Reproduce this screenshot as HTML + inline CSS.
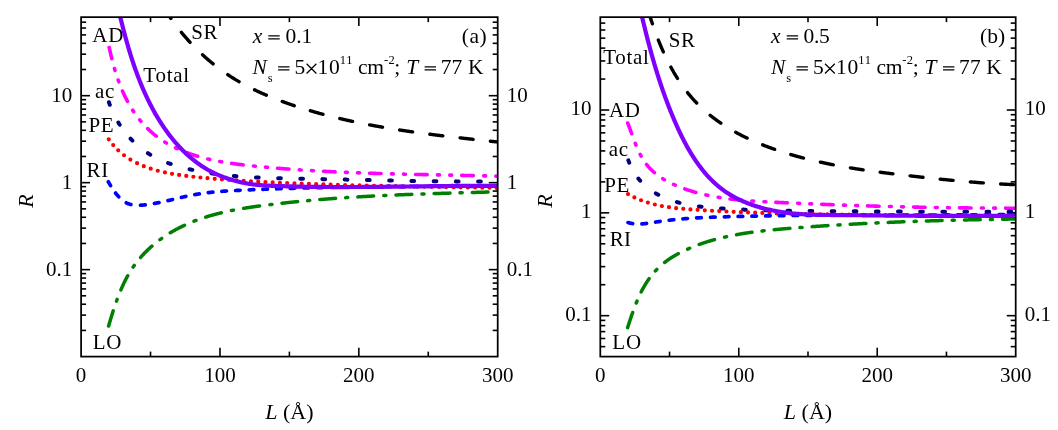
<!DOCTYPE html>
<html><head><meta charset="utf-8"><title>R vs L</title>
<style>
html,body{margin:0;padding:0;background:#fff;}
body{width:1058px;height:430px;overflow:hidden;font-family:"Liberation Serif",serif;}
svg{display:block;}
</style></head><body>
<svg width="1058" height="430" viewBox="0 0 1058 430">
<defs>
<clipPath id="clipL"><rect x="81.10" y="17.15" width="416.60" height="339.45"/></clipPath>
<clipPath id="clipR"><rect x="600.30" y="17.15" width="415.40" height="339.45"/></clipPath>
</defs>
<rect width="1058" height="430" fill="#fff"/>
<g font-family="'Liberation Serif', serif" fill="#000" opacity="0.999">
<text x="81.10" y="382.00" font-size="21.00" text-anchor="middle" >0</text>
<text x="219.97" y="382.00" font-size="21.00" text-anchor="middle" >100</text>
<text x="358.83" y="382.00" font-size="21.00" text-anchor="middle" >200</text>
<text x="497.70" y="382.00" font-size="21.00" text-anchor="middle" >300</text>
<text x="72.30" y="101.59" font-size="21.00" text-anchor="end" >10</text>
<text x="506.70" y="101.59" font-size="21.00" text-anchor="start" >10</text>
<text x="72.30" y="188.56" font-size="21.00" text-anchor="end" >1</text>
<text x="506.70" y="188.56" font-size="21.00" text-anchor="start" >1</text>
<text x="72.30" y="275.53" font-size="21.00" text-anchor="end" >0.1</text>
<text x="506.70" y="275.53" font-size="21.00" text-anchor="start" >0.1</text>
<text x="289.40" y="418.60" font-size="22.00" text-anchor="middle" ><tspan font-style="italic">L</tspan> (Å)</text>
<text transform="translate(32.50,201.00) rotate(-90)" font-size="22" text-anchor="middle" font-style="italic">R</text>
<text x="600.30" y="382.00" font-size="21.00" text-anchor="middle" >0</text>
<text x="738.77" y="382.00" font-size="21.00" text-anchor="middle" >100</text>
<text x="877.23" y="382.00" font-size="21.00" text-anchor="middle" >200</text>
<text x="1015.70" y="382.00" font-size="21.00" text-anchor="middle" >300</text>
<text x="591.50" y="115.42" font-size="21.00" text-anchor="end" >10</text>
<text x="1024.70" y="115.42" font-size="21.00" text-anchor="start" >10</text>
<text x="591.50" y="218.25" font-size="21.00" text-anchor="end" >1</text>
<text x="1024.70" y="218.25" font-size="21.00" text-anchor="start" >1</text>
<text x="591.50" y="321.08" font-size="21.00" text-anchor="end" >0.1</text>
<text x="1024.70" y="321.08" font-size="21.00" text-anchor="start" >0.1</text>
<text x="808.00" y="418.60" font-size="22.00" text-anchor="middle" ><tspan font-style="italic">L</tspan> (Å)</text>
<text transform="translate(551.70,201.00) rotate(-90)" font-size="22" text-anchor="middle" font-style="italic">R</text>
<text x="92.35" y="41.70" font-size="21.00" text-anchor="start"  letter-spacing="0.80">AD</text>
<text x="191.18" y="38.80" font-size="21.00" text-anchor="start"  letter-spacing="0.53">SR</text>
<text x="143.34" y="82.40" font-size="21.00" text-anchor="start"  letter-spacing="0.73">Total</text>
<text x="94.98" y="98.40" font-size="21.00" text-anchor="start"  letter-spacing="0.80">ac</text>
<text x="88.39" y="131.50" font-size="21.00" text-anchor="start"  letter-spacing="0.80">PE</text>
<text x="86.39" y="177.20" font-size="21.00" text-anchor="start"  letter-spacing="0.80">RI</text>
<text x="92.70" y="348.90" font-size="21.00" text-anchor="start"  letter-spacing="0.80">LO</text>
<text x="603.23" y="63.60" font-size="21.00" text-anchor="start"  letter-spacing="0.70">Total</text>
<text x="668.65" y="46.50" font-size="21.00" text-anchor="start"  letter-spacing="0.80">SR</text>
<text x="608.90" y="117.40" font-size="21.00" text-anchor="start"  letter-spacing="0.80">AD</text>
<text x="608.63" y="156.40" font-size="21.00" text-anchor="start"  letter-spacing="0.80">ac</text>
<text x="604.14" y="191.50" font-size="21.00" text-anchor="start"  letter-spacing="0.80">PE</text>
<text x="609.77" y="246.00" font-size="21.00" text-anchor="start"  letter-spacing="0.32">RI</text>
<text x="612.35" y="348.60" font-size="21.00" text-anchor="start"  letter-spacing="0.80">LO</text>
<text x="252.68" y="42.50" font-size="21.50" text-anchor="start"  font-style="italic">x</text>
<text x="285.45" y="42.50" font-size="21.50" text-anchor="start" >0.1</text>
<text x="461.75" y="42.80" font-size="21.50" text-anchor="start"  letter-spacing="0.57">(a)</text>
<text x="252.50" y="73.70" font-size="21.50" text-anchor="start"  font-style="italic">N</text>
<text x="267.74" y="81.50" font-size="12.50" text-anchor="start" >s</text>
<text x="294.58" y="73.70" font-size="21.50" text-anchor="start" >5</text>
<text x="317.51" y="73.70" font-size="21.50" text-anchor="start"  letter-spacing="0.80">10</text>
<text x="339.79" y="63.60" font-size="12.50" text-anchor="start"  letter-spacing="0.80">11</text>
<text x="358.04" y="73.70" font-size="21.50" text-anchor="start"  letter-spacing="-0.30">cm</text>
<text x="383.90" y="63.60" font-size="12.50" text-anchor="start"  letter-spacing="0.40">-2</text>
<text x="394.34" y="73.70" font-size="21.50" text-anchor="start" >;</text>
<text x="406.21" y="73.70" font-size="21.50" text-anchor="start"  font-style="italic">T</text>
<text x="440.69" y="73.70" font-size="21.50" text-anchor="start"  letter-spacing="0.11">77</text>
<text x="467.88" y="73.70" font-size="21.50" text-anchor="start" >K</text>
<text x="771.08" y="42.50" font-size="21.50" text-anchor="start"  font-style="italic">x</text>
<text x="803.45" y="42.50" font-size="21.50" text-anchor="start"  letter-spacing="-0.30">0.5</text>
<text x="980.10" y="42.80" font-size="21.50" text-anchor="start"  letter-spacing="0.02">(b)</text>
<text x="770.90" y="73.70" font-size="21.50" text-anchor="start"  font-style="italic">N</text>
<text x="786.14" y="81.50" font-size="12.50" text-anchor="start" >s</text>
<text x="812.98" y="73.70" font-size="21.50" text-anchor="start" >5</text>
<text x="835.91" y="73.70" font-size="21.50" text-anchor="start"  letter-spacing="0.80">10</text>
<text x="858.19" y="63.60" font-size="12.50" text-anchor="start"  letter-spacing="0.80">11</text>
<text x="876.44" y="73.70" font-size="21.50" text-anchor="start"  letter-spacing="-0.30">cm</text>
<text x="902.30" y="63.60" font-size="12.50" text-anchor="start"  letter-spacing="0.40">-2</text>
<text x="912.74" y="73.70" font-size="21.50" text-anchor="start" >;</text>
<text x="924.61" y="73.70" font-size="21.50" text-anchor="start"  font-style="italic">T</text>
<text x="959.09" y="73.70" font-size="21.50" text-anchor="start"  letter-spacing="0.11">77</text>
<text x="986.28" y="73.70" font-size="21.50" text-anchor="start" >K</text>
<path d="M268.30,35.75H279.70M268.30,38.75H279.70M278.10,66.95H289.50M278.10,69.95H289.50M306.60,63.70L316.40,73.50M306.60,73.50L316.40,63.70M424.60,66.95H436.00M424.60,69.95H436.00M786.70,35.75H798.10M786.70,38.75H798.10M796.50,66.95H807.90M796.50,69.95H807.90M825.00,63.70L834.80,73.50M825.00,73.50L834.80,63.70M943.00,66.95H954.40M943.00,69.95H954.40" stroke="#000" stroke-width="1.25" fill="none"/>
</g>
<g stroke="#000" stroke-width="1.6" fill="none" stroke-linecap="butt">
<line x1="150.53" y1="356.60" x2="150.53" y2="351.60"/>
<line x1="150.53" y1="17.15" x2="150.53" y2="22.15"/>
<line x1="219.97" y1="356.60" x2="219.97" y2="347.70"/>
<line x1="219.97" y1="17.15" x2="219.97" y2="26.05"/>
<line x1="289.40" y1="356.60" x2="289.40" y2="351.60"/>
<line x1="289.40" y1="17.15" x2="289.40" y2="22.15"/>
<line x1="358.83" y1="356.60" x2="358.83" y2="347.70"/>
<line x1="358.83" y1="17.15" x2="358.83" y2="26.05"/>
<line x1="428.27" y1="356.60" x2="428.27" y2="351.60"/>
<line x1="428.27" y1="17.15" x2="428.27" y2="22.15"/>
<line x1="81.10" y1="330.42" x2="86.10" y2="330.42"/>
<line x1="497.70" y1="330.42" x2="492.70" y2="330.42"/>
<line x1="81.10" y1="315.10" x2="86.10" y2="315.10"/>
<line x1="497.70" y1="315.10" x2="492.70" y2="315.10"/>
<line x1="81.10" y1="304.24" x2="86.10" y2="304.24"/>
<line x1="497.70" y1="304.24" x2="492.70" y2="304.24"/>
<line x1="81.10" y1="295.81" x2="86.10" y2="295.81"/>
<line x1="497.70" y1="295.81" x2="492.70" y2="295.81"/>
<line x1="81.10" y1="288.92" x2="86.10" y2="288.92"/>
<line x1="497.70" y1="288.92" x2="492.70" y2="288.92"/>
<line x1="81.10" y1="283.10" x2="86.10" y2="283.10"/>
<line x1="497.70" y1="283.10" x2="492.70" y2="283.10"/>
<line x1="81.10" y1="278.06" x2="86.10" y2="278.06"/>
<line x1="497.70" y1="278.06" x2="492.70" y2="278.06"/>
<line x1="81.10" y1="273.61" x2="86.10" y2="273.61"/>
<line x1="497.70" y1="273.61" x2="492.70" y2="273.61"/>
<line x1="81.10" y1="269.63" x2="90.00" y2="269.63"/>
<line x1="497.70" y1="269.63" x2="488.80" y2="269.63"/>
<line x1="81.10" y1="243.45" x2="86.10" y2="243.45"/>
<line x1="497.70" y1="243.45" x2="492.70" y2="243.45"/>
<line x1="81.10" y1="228.14" x2="86.10" y2="228.14"/>
<line x1="497.70" y1="228.14" x2="492.70" y2="228.14"/>
<line x1="81.10" y1="217.27" x2="86.10" y2="217.27"/>
<line x1="497.70" y1="217.27" x2="492.70" y2="217.27"/>
<line x1="81.10" y1="208.84" x2="86.10" y2="208.84"/>
<line x1="497.70" y1="208.84" x2="492.70" y2="208.84"/>
<line x1="81.10" y1="201.95" x2="86.10" y2="201.95"/>
<line x1="497.70" y1="201.95" x2="492.70" y2="201.95"/>
<line x1="81.10" y1="196.13" x2="86.10" y2="196.13"/>
<line x1="497.70" y1="196.13" x2="492.70" y2="196.13"/>
<line x1="81.10" y1="191.09" x2="86.10" y2="191.09"/>
<line x1="497.70" y1="191.09" x2="492.70" y2="191.09"/>
<line x1="81.10" y1="186.64" x2="86.10" y2="186.64"/>
<line x1="497.70" y1="186.64" x2="492.70" y2="186.64"/>
<line x1="81.10" y1="182.66" x2="90.00" y2="182.66"/>
<line x1="497.70" y1="182.66" x2="488.80" y2="182.66"/>
<line x1="81.10" y1="156.48" x2="86.10" y2="156.48"/>
<line x1="497.70" y1="156.48" x2="492.70" y2="156.48"/>
<line x1="81.10" y1="141.17" x2="86.10" y2="141.17"/>
<line x1="497.70" y1="141.17" x2="492.70" y2="141.17"/>
<line x1="81.10" y1="130.30" x2="86.10" y2="130.30"/>
<line x1="497.70" y1="130.30" x2="492.70" y2="130.30"/>
<line x1="81.10" y1="121.87" x2="86.10" y2="121.87"/>
<line x1="497.70" y1="121.87" x2="492.70" y2="121.87"/>
<line x1="81.10" y1="114.99" x2="86.10" y2="114.99"/>
<line x1="497.70" y1="114.99" x2="492.70" y2="114.99"/>
<line x1="81.10" y1="109.16" x2="86.10" y2="109.16"/>
<line x1="497.70" y1="109.16" x2="492.70" y2="109.16"/>
<line x1="81.10" y1="104.12" x2="86.10" y2="104.12"/>
<line x1="497.70" y1="104.12" x2="492.70" y2="104.12"/>
<line x1="81.10" y1="99.67" x2="86.10" y2="99.67"/>
<line x1="497.70" y1="99.67" x2="492.70" y2="99.67"/>
<line x1="81.10" y1="95.69" x2="90.00" y2="95.69"/>
<line x1="497.70" y1="95.69" x2="488.80" y2="95.69"/>
<line x1="81.10" y1="69.51" x2="86.10" y2="69.51"/>
<line x1="497.70" y1="69.51" x2="492.70" y2="69.51"/>
<line x1="81.10" y1="54.20" x2="86.10" y2="54.20"/>
<line x1="497.70" y1="54.20" x2="492.70" y2="54.20"/>
<line x1="81.10" y1="43.33" x2="86.10" y2="43.33"/>
<line x1="497.70" y1="43.33" x2="492.70" y2="43.33"/>
<line x1="81.10" y1="34.90" x2="86.10" y2="34.90"/>
<line x1="497.70" y1="34.90" x2="492.70" y2="34.90"/>
<line x1="81.10" y1="28.02" x2="86.10" y2="28.02"/>
<line x1="497.70" y1="28.02" x2="492.70" y2="28.02"/>
<line x1="81.10" y1="22.19" x2="86.10" y2="22.19"/>
<line x1="497.70" y1="22.19" x2="492.70" y2="22.19"/>
</g>
<g stroke="#000" stroke-width="1.6" fill="none" stroke-linecap="butt">
<line x1="669.53" y1="356.60" x2="669.53" y2="351.60"/>
<line x1="669.53" y1="17.15" x2="669.53" y2="22.15"/>
<line x1="738.77" y1="356.60" x2="738.77" y2="347.70"/>
<line x1="738.77" y1="17.15" x2="738.77" y2="26.05"/>
<line x1="808.00" y1="356.60" x2="808.00" y2="351.60"/>
<line x1="808.00" y1="17.15" x2="808.00" y2="22.15"/>
<line x1="877.23" y1="356.60" x2="877.23" y2="347.70"/>
<line x1="877.23" y1="17.15" x2="877.23" y2="26.05"/>
<line x1="946.47" y1="356.60" x2="946.47" y2="351.60"/>
<line x1="946.47" y1="17.15" x2="946.47" y2="22.15"/>
<line x1="600.30" y1="346.63" x2="605.30" y2="346.63"/>
<line x1="1015.70" y1="346.63" x2="1010.70" y2="346.63"/>
<line x1="600.30" y1="338.49" x2="605.30" y2="338.49"/>
<line x1="1015.70" y1="338.49" x2="1010.70" y2="338.49"/>
<line x1="600.30" y1="331.61" x2="605.30" y2="331.61"/>
<line x1="1015.70" y1="331.61" x2="1010.70" y2="331.61"/>
<line x1="600.30" y1="325.64" x2="605.30" y2="325.64"/>
<line x1="1015.70" y1="325.64" x2="1010.70" y2="325.64"/>
<line x1="600.30" y1="320.38" x2="605.30" y2="320.38"/>
<line x1="1015.70" y1="320.38" x2="1010.70" y2="320.38"/>
<line x1="600.30" y1="315.68" x2="609.20" y2="315.68"/>
<line x1="1015.70" y1="315.68" x2="1006.80" y2="315.68"/>
<line x1="600.30" y1="284.72" x2="605.30" y2="284.72"/>
<line x1="1015.70" y1="284.72" x2="1010.70" y2="284.72"/>
<line x1="600.30" y1="266.62" x2="605.30" y2="266.62"/>
<line x1="1015.70" y1="266.62" x2="1010.70" y2="266.62"/>
<line x1="600.30" y1="253.77" x2="605.30" y2="253.77"/>
<line x1="1015.70" y1="253.77" x2="1010.70" y2="253.77"/>
<line x1="600.30" y1="243.80" x2="605.30" y2="243.80"/>
<line x1="1015.70" y1="243.80" x2="1010.70" y2="243.80"/>
<line x1="600.30" y1="235.66" x2="605.30" y2="235.66"/>
<line x1="1015.70" y1="235.66" x2="1010.70" y2="235.66"/>
<line x1="600.30" y1="228.78" x2="605.30" y2="228.78"/>
<line x1="1015.70" y1="228.78" x2="1010.70" y2="228.78"/>
<line x1="600.30" y1="222.81" x2="605.30" y2="222.81"/>
<line x1="1015.70" y1="222.81" x2="1010.70" y2="222.81"/>
<line x1="600.30" y1="217.55" x2="605.30" y2="217.55"/>
<line x1="1015.70" y1="217.55" x2="1010.70" y2="217.55"/>
<line x1="600.30" y1="212.85" x2="609.20" y2="212.85"/>
<line x1="1015.70" y1="212.85" x2="1006.80" y2="212.85"/>
<line x1="600.30" y1="181.89" x2="605.30" y2="181.89"/>
<line x1="1015.70" y1="181.89" x2="1010.70" y2="181.89"/>
<line x1="600.30" y1="163.78" x2="605.30" y2="163.78"/>
<line x1="1015.70" y1="163.78" x2="1010.70" y2="163.78"/>
<line x1="600.30" y1="150.94" x2="605.30" y2="150.94"/>
<line x1="1015.70" y1="150.94" x2="1010.70" y2="150.94"/>
<line x1="600.30" y1="140.97" x2="605.30" y2="140.97"/>
<line x1="1015.70" y1="140.97" x2="1010.70" y2="140.97"/>
<line x1="600.30" y1="132.83" x2="605.30" y2="132.83"/>
<line x1="1015.70" y1="132.83" x2="1010.70" y2="132.83"/>
<line x1="600.30" y1="125.94" x2="605.30" y2="125.94"/>
<line x1="1015.70" y1="125.94" x2="1010.70" y2="125.94"/>
<line x1="600.30" y1="119.98" x2="605.30" y2="119.98"/>
<line x1="1015.70" y1="119.98" x2="1010.70" y2="119.98"/>
<line x1="600.30" y1="114.72" x2="605.30" y2="114.72"/>
<line x1="1015.70" y1="114.72" x2="1010.70" y2="114.72"/>
<line x1="600.30" y1="110.02" x2="609.20" y2="110.02"/>
<line x1="1015.70" y1="110.02" x2="1006.80" y2="110.02"/>
<line x1="600.30" y1="79.06" x2="605.30" y2="79.06"/>
<line x1="1015.70" y1="79.06" x2="1010.70" y2="79.06"/>
<line x1="600.30" y1="60.95" x2="605.30" y2="60.95"/>
<line x1="1015.70" y1="60.95" x2="1010.70" y2="60.95"/>
<line x1="600.30" y1="48.11" x2="605.30" y2="48.11"/>
<line x1="1015.70" y1="48.11" x2="1010.70" y2="48.11"/>
<line x1="600.30" y1="38.14" x2="605.30" y2="38.14"/>
<line x1="1015.70" y1="38.14" x2="1010.70" y2="38.14"/>
<line x1="600.30" y1="30.00" x2="605.30" y2="30.00"/>
<line x1="1015.70" y1="30.00" x2="1010.70" y2="30.00"/>
<line x1="600.30" y1="23.11" x2="605.30" y2="23.11"/>
<line x1="1015.70" y1="23.11" x2="1010.70" y2="23.11"/>
</g>
<g clip-path="url(#clipL)" fill="none" stroke-linecap="round" stroke-linejoin="round">
<path d="M163.71,7.52L163.74,7.57L164.01,8.01L164.28,8.44L164.55,8.87L164.82,9.30L165.09,9.73L165.36,10.16L165.63,10.59L165.90,11.02L166.18,11.44L166.45,11.87L166.73,12.30L167.00,12.72L167.28,13.15L167.56,13.57L167.84,14.00L168.12,14.42L168.40,14.84L168.69,15.26L168.97,15.68L169.25,16.10L169.54,16.52L169.83,16.94L170.11,17.36L170.40,17.78L170.69,18.20L170.89,18.48M181.39,32.37L181.46,32.45L181.78,32.84L182.11,33.23L182.43,33.62L182.75,34.01L183.08,34.40L183.40,34.78L183.73,35.17L184.06,35.56L184.39,35.94L184.72,36.32L185.05,36.71L185.38,37.09L185.71,37.47L186.04,37.85L186.38,38.23L186.71,38.61L187.05,38.99L187.38,39.37L187.72,39.75L188.06,40.12L188.40,40.50L188.74,40.87L189.08,41.25L189.42,41.62L189.76,41.99L190.08,42.34M202.59,54.80L202.63,54.84L203.01,55.18L203.38,55.52L203.75,55.86L204.13,56.20L204.50,56.54L204.88,56.88L205.26,57.21L205.63,57.55L206.01,57.88L206.39,58.21L206.77,58.55L207.15,58.88L207.54,59.21L207.92,59.54L208.30,59.86L208.69,60.19L209.07,60.52L209.46,60.84L209.84,61.17L210.23,61.49L210.62,61.82L211.01,62.14L211.39,62.46L211.78,62.78L212.18,63.10L212.57,63.42L212.96,63.73L213.08,63.83M227.81,74.66L227.88,74.71L228.30,74.99L228.72,75.27L229.15,75.55L229.57,75.83L229.99,76.10L230.41,76.38L230.84,76.65L231.26,76.93L231.69,77.20L232.11,77.47L232.54,77.74L232.96,78.01L233.39,78.27L233.82,78.54L234.25,78.80L234.68,79.07L235.11,79.33L235.54,79.59L235.97,79.86L236.41,80.12L236.84,80.37L237.27,80.63L237.71,80.89L238.14,81.14L238.58,81.40L239.01,81.65L239.06,81.68M254.58,89.86L254.66,89.90L255.12,90.11L255.58,90.33L256.03,90.55L256.49,90.76L256.95,90.98L257.41,91.19L257.87,91.41L258.33,91.62L258.79,91.83L259.25,92.04L259.71,92.25L260.17,92.46L260.63,92.67L261.10,92.88L261.56,93.08L262.02,93.29L262.49,93.49L262.95,93.70L263.41,93.90L263.88,94.10L264.34,94.31L264.81,94.51L265.27,94.71L265.74,94.91L266.21,95.11L266.33,95.16M282.22,101.43L282.24,101.44L282.72,101.62L283.20,101.79L283.67,101.96L284.15,102.14L284.63,102.31L285.10,102.48L285.58,102.65L286.06,102.83L286.53,103.00L287.01,103.17L287.49,103.33L287.97,103.50L288.44,103.67L288.92,103.84L289.40,104.01L289.88,104.17L290.36,104.34L290.84,104.50L291.32,104.67L291.80,104.83L292.27,104.99L292.75,105.16L293.23,105.32L293.71,105.48L294.19,105.64L294.21,105.65M310.38,110.74L310.48,110.77L310.97,110.92L311.45,111.06L311.94,111.20L312.43,111.34L312.91,111.48L313.40,111.62L313.88,111.76L314.37,111.90L314.86,112.04L315.34,112.18L315.83,112.32L316.31,112.46L316.80,112.59L317.29,112.73L317.78,112.87L318.26,113.00L318.75,113.14L319.24,113.27L319.72,113.41L320.21,113.54L320.70,113.67L321.19,113.81L321.68,113.94L322.16,114.07L322.65,114.20L322.97,114.29M339.81,118.54L339.92,118.56L340.42,118.68L340.91,118.79L341.40,118.91L341.89,119.02L342.38,119.14L342.88,119.25L343.37,119.37L343.86,119.48L344.35,119.59L344.85,119.70L345.34,119.82L345.83,119.93L346.33,120.04L346.82,120.15L347.31,120.26L347.80,120.37L348.30,120.48L348.79,120.59L349.28,120.70L349.78,120.81L350.27,120.91L350.77,121.02L351.26,121.13L351.75,121.24L352.25,121.34L352.57,121.41M369.60,124.85L369.71,124.87L370.21,124.97L370.71,125.06L371.20,125.16L371.70,125.25L372.20,125.34L372.69,125.43L373.19,125.53L373.69,125.62L374.19,125.71L374.68,125.80L375.18,125.89L375.68,125.98L376.18,126.07L376.67,126.16L377.17,126.25L377.67,126.34L378.17,126.43L378.66,126.52L379.16,126.61L379.66,126.69L380.16,126.78L380.66,126.87L381.16,126.96L381.65,127.04L382.15,127.13L382.49,127.19M399.67,129.99L399.76,130.00L400.26,130.08L400.76,130.16L401.26,130.23L401.76,130.31L402.26,130.39L402.76,130.46L403.26,130.54L403.76,130.61L404.26,130.69L404.76,130.76L405.26,130.84L405.76,130.91L406.27,130.98L406.77,131.06L407.27,131.13L407.77,131.21L408.27,131.28L408.77,131.35L409.27,131.42L409.77,131.50L410.27,131.57L410.78,131.64L411.28,131.71L411.78,131.78L412.28,131.86L412.63,131.90M429.87,134.23L429.97,134.25L430.48,134.31L430.98,134.37L431.48,134.44L431.98,134.50L432.49,134.57L432.99,134.63L433.49,134.69L433.99,134.76L434.50,134.82L435.00,134.88L435.50,134.95L436.00,135.01L436.51,135.07L437.01,135.14L437.51,135.20L438.02,135.26L438.52,135.32L439.02,135.38L439.52,135.45L440.03,135.51L440.53,135.57L441.03,135.63L441.54,135.69L442.04,135.75L442.54,135.81L442.85,135.85M460.10,137.87L460.15,137.88L460.65,137.93L461.15,137.99L461.66,138.05L462.16,138.11L462.66,138.16L463.17,138.22L463.67,138.28L464.17,138.33L464.68,138.39L465.18,138.45L465.68,138.50L466.18,138.56L466.69,138.61L467.19,138.67L467.69,138.73L468.20,138.78L468.70,138.84L469.20,138.90L469.71,138.95L470.21,139.01L470.71,139.06L471.21,139.12L471.72,139.17L472.22,139.23L472.72,139.29L473.10,139.33M490.38,141.22L490.44,141.22L490.95,141.28L491.45,141.33L491.95,141.39L492.45,141.44L492.95,141.50L493.46,141.55L493.96,141.61L494.46,141.66L494.96,141.71L495.47,141.77L495.97,141.82L496.47,141.88L496.97,141.93L497.47,141.99L497.60,142.00" stroke="#000000" stroke-width="3.40"/>
<path d="M109.22,47.50L109.25,47.64L109.37,48.21L109.50,48.78L109.62,49.35L109.75,49.92L109.88,50.49L110.00,51.06L110.13,51.64L110.26,52.21L110.40,52.79L110.53,53.36L110.67,53.94L110.80,54.51L110.94,55.09L111.08,55.67L111.22,56.25L111.36,56.83L111.50,57.40L111.64,57.98L111.79,58.56L111.81,58.67M114.49,68.57L114.50,68.60L114.68,69.18L114.85,69.77L115.02,70.35L115.03,70.38M118.19,80.02L118.20,80.05L118.40,80.63L118.61,81.20L118.82,81.78L118.83,81.80M122.51,91.03L122.55,91.13L122.80,91.69L123.05,92.24L123.29,92.80L123.55,93.36L123.80,93.91L124.05,94.46L124.31,95.01L124.57,95.56L124.83,96.11L125.10,96.66L125.37,97.20L125.63,97.75L125.91,98.29L126.18,98.83L126.46,99.37L126.73,99.91L127.01,100.45L127.30,100.98L127.47,101.31M132.66,110.10L132.73,110.20L133.05,110.70L133.38,111.20L133.70,111.67M139.69,119.80L139.75,119.86L140.12,120.33L140.50,120.78L140.88,121.24L140.90,121.26M147.68,128.60L147.71,128.63L148.13,129.04L148.55,129.45L148.98,129.86L149.41,130.27L149.84,130.67L150.27,131.07L150.71,131.46L151.15,131.86L151.59,132.25L152.03,132.64L152.48,133.02L152.93,133.41L153.37,133.79L153.83,134.16L154.28,134.54L154.74,134.91L155.20,135.28L155.66,135.64L156.12,136.01L156.33,136.17M164.79,142.03L164.83,142.05L165.33,142.36L165.84,142.67L166.34,142.97L166.42,143.02M175.50,147.87L175.50,147.87L176.04,148.13L176.57,148.38L177.12,148.63L177.24,148.69M186.63,152.59L186.65,152.60L187.21,152.81L187.78,153.02L188.34,153.22L188.91,153.43L189.48,153.63L190.05,153.83L190.62,154.02L191.19,154.22L191.76,154.41L192.33,154.60L192.90,154.79L193.48,154.98L194.05,155.16L194.63,155.34L195.20,155.52L195.78,155.70L196.36,155.88L196.94,156.05L197.52,156.23L197.72,156.29M207.85,158.97L207.89,158.98L208.48,159.12L209.07,159.25L209.66,159.39L209.73,159.41M219.80,161.47L219.85,161.48L220.45,161.58L221.04,161.69L221.63,161.80L221.69,161.81M231.64,163.39L231.75,163.40L232.35,163.49L232.95,163.57L233.54,163.65L234.14,163.73L234.74,163.82L235.34,163.90L235.93,163.97L236.53,164.05L237.13,164.13L237.73,164.21L238.32,164.28L238.92,164.36L239.52,164.43L240.12,164.51L240.72,164.58L241.31,164.65L241.91,164.72L242.51,164.79L243.11,164.86L243.14,164.87M253.46,165.99L253.59,166.00L254.19,166.06L254.79,166.12L255.37,166.18M265.58,167.17L265.72,167.18L266.32,167.23L266.92,167.29L267.49,167.34M277.50,168.21L277.55,168.21L278.15,168.26L278.75,168.31L279.35,168.36L279.95,168.41L280.55,168.46L281.14,168.50L281.74,168.55L282.34,168.60L282.94,168.65L283.54,168.69L284.14,168.74L284.74,168.79L285.34,168.83L285.94,168.88L286.53,168.93L287.13,168.97L287.73,169.02L288.33,169.06L288.93,169.11L289.02,169.11M299.35,169.84L299.41,169.85L300.01,169.89L300.61,169.93L301.21,169.97L301.25,169.97M311.49,170.62L311.54,170.62L312.14,170.65L312.73,170.69L313.33,170.72L313.40,170.73M323.47,171.29L323.51,171.29L324.11,171.32L324.71,171.35L325.31,171.39L325.91,171.42L326.51,171.45L327.11,171.48L327.71,171.51L328.30,171.54L328.90,171.57L329.50,171.60L330.10,171.63L330.70,171.66L331.30,171.69L331.90,171.72L332.50,171.74L333.10,171.77L333.69,171.80L334.29,171.83L334.89,171.86L335.06,171.87M345.44,172.33L345.52,172.33L346.12,172.35L346.72,172.38L347.32,172.40L347.36,172.41M357.60,172.80L357.65,172.81L358.25,172.83L358.85,172.85L359.45,172.87L359.51,172.87M369.54,173.22L369.63,173.22L370.23,173.24L370.83,173.26L371.43,173.28L372.03,173.30L372.63,173.32L373.23,173.33L373.83,173.35L374.43,173.37L375.03,173.39L375.62,173.41L376.22,173.43L376.82,173.45L377.42,173.46L378.02,173.48L378.62,173.50L379.22,173.52L379.82,173.53L380.42,173.55L381.02,173.57L381.08,173.57M391.42,173.86L391.51,173.86L392.10,173.87L392.70,173.89L393.30,173.90L393.33,173.90M403.58,174.16L403.64,174.16L404.24,174.17L404.84,174.19L405.44,174.20L405.49,174.20M415.57,174.43L415.64,174.43L416.23,174.44L416.83,174.46L417.43,174.47L418.03,174.48L418.63,174.50L419.23,174.51L419.83,174.52L420.43,174.53L421.03,174.55L421.63,174.56L422.23,174.57L422.83,174.58L423.43,174.60L424.03,174.61L424.63,174.62L425.23,174.63L425.83,174.65L426.43,174.66L427.03,174.67L427.16,174.67M437.54,174.89L437.68,174.89L438.28,174.90L438.88,174.91L439.45,174.92M449.73,175.13L449.83,175.13L450.43,175.14L451.03,175.16L451.63,175.17L451.64,175.17M461.72,175.37L461.84,175.38L462.44,175.39L463.04,175.40L463.64,175.41L464.24,175.43L464.85,175.44L465.45,175.45L466.05,175.47L466.65,175.48L467.25,175.49L467.85,175.50L468.45,175.52L469.05,175.53L469.65,175.54L470.25,175.56L470.85,175.57L471.45,175.58L472.05,175.59L472.66,175.61L473.26,175.62L473.31,175.62M483.68,175.86L483.77,175.86L484.37,175.88L484.98,175.89L485.58,175.90L485.60,175.90M495.83,176.16L495.95,176.16L496.55,176.18L497.15,176.20L497.60,176.21" stroke="#ff00ff" stroke-width="3.60"/>
<path d="M108.93,102.24L109.40,103.59L109.59,104.13L109.79,104.66L109.84,104.81M118.35,122.53L118.40,122.62L118.69,123.10L118.99,123.57L119.29,124.05L119.59,124.53L119.73,124.74M130.57,138.68L130.63,138.74L131.01,139.15L131.39,139.55L131.78,139.95L132.17,140.35L132.43,140.61M147.92,153.20L147.97,153.23L148.43,153.53L148.90,153.82L149.36,154.11L149.83,154.40L150.27,154.66M168.13,163.05L168.24,163.09L168.76,163.28L169.29,163.47L169.81,163.66L170.33,163.84L170.71,163.97M189.64,169.25L189.66,169.26L190.21,169.38L190.75,169.50L191.30,169.63L191.84,169.75L192.30,169.84M211.47,173.33L211.57,173.35L212.12,173.43L212.67,173.51L213.22,173.59L213.77,173.67L214.18,173.73M233.79,175.97L233.80,175.97L234.35,176.02L234.90,176.07L235.46,176.11L236.01,176.16L236.51,176.20M255.95,177.47L256.01,177.47L256.57,177.50L257.13,177.52L257.68,177.55L258.24,177.58L258.66,177.60M278.14,178.25L278.17,178.25L278.72,178.27L279.28,178.28L279.84,178.30L280.40,178.31L280.85,178.32M300.29,178.70L300.34,178.70L300.90,178.71L301.45,178.72L302.01,178.73L302.57,178.74L302.99,178.75M322.44,179.12L322.49,179.13L323.05,179.14L323.60,179.15L324.16,179.16L324.72,179.17L325.15,179.18M344.67,179.59L344.75,179.59L345.31,179.60L345.86,179.61L346.42,179.62L346.98,179.63L347.39,179.64M366.92,180.05L366.99,180.05L367.55,180.07L368.11,180.08L368.66,180.09L369.22,180.10L369.64,180.11M389.17,180.50L389.23,180.50L389.78,180.51L390.34,180.52L390.89,180.53L391.45,180.54L391.88,180.55M411.41,180.89L411.46,180.89L412.01,180.90L412.57,180.91L413.12,180.92L413.68,180.93L414.13,180.93M433.66,181.20L433.69,181.20L434.25,181.21L434.81,181.22L435.36,181.22L435.92,181.23L436.38,181.23M455.91,181.40L455.95,181.41L456.50,181.41L457.06,181.41L457.62,181.42L458.17,181.42L458.62,181.42M478.11,181.47L478.22,181.47L478.78,181.47L479.34,181.47L479.89,181.47L480.45,181.47L480.82,181.47" stroke="#000080" stroke-width="4.00"/>
<path d="M108.79,139.29l0.01,0M113.21,145.03l0.01,0M118.22,150.29l0.01,0M124.04,155.23l0.01,0M130.37,159.55l0.01,0M137.06,163.22l0.01,0M143.78,166.20l0.01,0M150.71,168.69l0.01,0M157.78,170.75l0.01,0M164.94,172.44l0.01,0M172.02,173.81l0.01,0M179.14,174.95l0.01,0M186.28,175.92l0.01,0M193.38,176.76l0.01,0M200.42,177.51l0.01,0M207.49,178.19l0.01,0M214.72,178.83l0.01,0M221.96,179.41l0.01,0M229.21,179.94l0.01,0M236.46,180.43l0.01,0M243.71,180.88l0.01,0M250.96,181.30l0.01,0M258.21,181.70l0.01,0M265.45,182.08l0.01,0M272.69,182.44l0.01,0M279.93,182.78l0.01,0M287.18,183.10l0.01,0M294.42,183.40l0.01,0M301.67,183.69l0.01,0M308.91,183.96l0.01,0M316.16,184.21l0.01,0M323.40,184.45l0.01,0M330.63,184.67l0.01,0M337.86,184.89l0.01,0M345.09,185.09l0.01,0M352.31,185.28l0.01,0M359.54,185.46l0.01,0M366.77,185.62l0.01,0M374.00,185.78l0.01,0M381.23,185.94l0.01,0M388.46,186.08l0.01,0M395.69,186.22l0.01,0M402.92,186.35l0.01,0M410.15,186.48l0.01,0M417.38,186.60l0.01,0M424.61,186.72l0.01,0M431.84,186.84l0.01,0M439.07,186.95l0.01,0M446.27,187.06l0.01,0M453.47,187.18l0.01,0M460.67,187.29l0.01,0M467.87,187.40l0.01,0M475.07,187.52l0.01,0M482.26,187.64l0.01,0M489.46,187.76l0.01,0M496.67,187.88l0.01,0" stroke="#ff0000" stroke-width="4.20"/>
<path d="M108.30,181.80L108.36,181.90L108.61,182.32L108.86,182.75L109.11,183.18L109.36,183.61L109.62,184.05L109.89,184.50L110.16,184.94L110.43,185.39L110.56,185.61M115.60,193.07L115.62,193.10L115.97,193.55L116.32,193.99L116.68,194.44L117.04,194.87L117.40,195.31L117.77,195.73L118.14,196.15L118.52,196.57L118.72,196.79M126.30,202.80L126.37,202.84L126.83,203.07L127.29,203.28L127.76,203.48L128.23,203.67L128.71,203.85L129.19,204.01L129.67,204.17L130.16,204.31L130.65,204.44L130.88,204.50M140.52,205.23L140.57,205.22L141.10,205.19L141.63,205.16L142.16,205.12L142.69,205.08L143.23,205.03L143.76,204.98L144.30,204.92L144.83,204.87L145.24,204.82M154.49,203.44L154.52,203.43L155.05,203.34L155.58,203.24L156.10,203.14L156.63,203.04L157.16,202.94L157.68,202.84L158.21,202.73L158.73,202.63L159.04,202.57M167.99,200.61L168.03,200.60L168.56,200.47L169.08,200.35L169.60,200.23L170.12,200.11L170.64,199.98L171.17,199.86L171.69,199.74L172.21,199.61L172.50,199.54M181.42,197.43L181.47,197.42L181.99,197.30L182.51,197.18L183.03,197.06L183.55,196.94L184.08,196.82L184.60,196.71L185.12,196.59L185.64,196.47L185.89,196.42M194.79,194.61L194.81,194.61L195.34,194.51L195.86,194.42L196.39,194.33L196.91,194.24L197.44,194.15L197.97,194.06L198.49,193.98L199.02,193.89L199.32,193.85M208.32,192.61L208.41,192.60L208.94,192.54L209.47,192.48L210.00,192.42L210.53,192.36L211.06,192.30L211.60,192.25L212.13,192.19L212.66,192.14L212.88,192.11M221.93,191.33L221.98,191.32L222.52,191.28L223.05,191.24L223.59,191.20L224.12,191.17L224.65,191.13L225.19,191.09L225.72,191.06L226.26,191.02L226.51,191.01M235.57,190.49L235.62,190.49L236.15,190.46L236.69,190.43L237.22,190.41L237.76,190.38L238.29,190.36L238.83,190.33L239.37,190.30L239.90,190.28L240.16,190.27M249.23,189.86L249.27,189.86L249.80,189.83L250.34,189.81L250.88,189.79L251.41,189.76L251.95,189.74L252.48,189.72L253.02,189.70L253.55,189.67L253.81,189.66M262.89,189.30L262.92,189.30L263.45,189.28L263.99,189.26L264.52,189.24L265.06,189.22L265.59,189.20L266.13,189.18L266.66,189.16L267.20,189.14L267.48,189.13M276.55,188.81L276.56,188.81L277.09,188.79L277.63,188.77L278.16,188.75L278.70,188.74L279.23,188.72L279.77,188.70L280.30,188.68L280.84,188.67L281.15,188.66M290.24,188.38L290.33,188.37L290.87,188.36L291.40,188.34L291.94,188.33L292.47,188.31L293.01,188.30L293.54,188.28L294.08,188.27L294.61,188.25L294.84,188.24M303.94,188.00L303.97,188.00L304.50,187.99L305.04,187.98L305.57,187.96L306.11,187.95L306.64,187.94L307.18,187.92L307.71,187.91L308.25,187.90L308.54,187.89M317.64,187.68L317.74,187.68L318.27,187.67L318.81,187.66L319.34,187.65L319.88,187.64L320.41,187.62L320.95,187.61L321.48,187.60L322.01,187.59L322.23,187.59M331.33,187.41L331.37,187.41L331.90,187.40L332.44,187.39L332.97,187.38L333.51,187.37L334.04,187.36L334.58,187.35L335.11,187.35L335.65,187.34L335.93,187.33M345.03,187.18L345.14,187.18L345.67,187.17L346.20,187.17L346.74,187.16L347.27,187.15L347.81,187.14L348.34,187.14L348.88,187.13L349.41,187.12L349.63,187.12M358.73,187.00L358.77,186.99L359.30,186.99L359.84,186.98L360.37,186.98L360.90,186.97L361.44,186.96L361.97,186.96L362.51,186.95L363.04,186.94L363.33,186.94M372.43,186.84L372.53,186.84L373.07,186.83L373.60,186.83L374.14,186.82L374.67,186.82L375.20,186.81L375.74,186.81L376.27,186.80L376.81,186.80L377.03,186.80M386.13,186.72L386.16,186.72L386.70,186.71L387.23,186.71L387.77,186.70L388.30,186.70L388.84,186.69L389.37,186.69L389.91,186.69L390.44,186.68L390.73,186.68M399.83,186.62L399.93,186.61L400.47,186.61L401.00,186.61L401.54,186.60L402.07,186.60L402.60,186.60L403.14,186.59L403.67,186.59L404.21,186.59L404.43,186.59M413.53,186.54L413.57,186.53L414.10,186.53L414.64,186.53L415.17,186.53L415.71,186.52L416.24,186.52L416.78,186.52L417.31,186.52L417.84,186.51L418.13,186.51M427.23,186.47L427.34,186.47L427.87,186.47L428.41,186.47L428.94,186.46L429.48,186.46L430.01,186.46L430.55,186.46L431.08,186.45L431.62,186.45L431.83,186.45M440.93,186.42L440.98,186.42L441.52,186.41L442.05,186.41L442.59,186.41L443.12,186.41L443.66,186.41L444.19,186.40L444.73,186.40L445.26,186.40L445.53,186.40M454.63,186.37L454.76,186.37L455.29,186.36L455.83,186.36L456.36,186.36L456.90,186.36L457.44,186.36L457.97,186.36L458.51,186.35L459.04,186.35L459.23,186.35M468.33,186.32L468.41,186.32L468.94,186.32L469.48,186.32L470.02,186.31L470.55,186.31L471.09,186.31L471.62,186.31L472.16,186.31L472.69,186.30L472.93,186.30M482.03,186.27L482.06,186.27L482.60,186.27L483.14,186.26L483.67,186.26L484.21,186.26L484.74,186.26L485.28,186.26L485.81,186.25L486.35,186.25L486.63,186.25M495.73,186.21L495.86,186.21L496.39,186.21L496.93,186.20L497.47,186.20L497.60,186.20" stroke="#0000ff" stroke-width="3.70"/>
<path d="M108.61,326.00L108.65,325.86L108.81,325.30L108.98,324.74L109.14,324.18L109.31,323.61L109.48,323.05L109.64,322.49L109.81,321.92L109.98,321.36L110.15,320.79L110.32,320.22L110.48,319.66L110.65,319.09L110.83,318.52L111.00,317.95L111.17,317.39L111.34,316.82L111.52,316.25L111.69,315.68L111.87,315.11L112.04,314.54L112.22,313.97L112.40,313.40L112.58,312.83L112.76,312.26L112.94,311.69L113.12,311.12L113.20,310.88M116.43,301.31L116.43,301.30L116.63,300.73L116.84,300.16L117.05,299.60L117.14,299.34M120.84,289.94L120.85,289.92L121.09,289.37L121.33,288.82L121.57,288.26L121.81,287.71L122.05,287.16L122.30,286.61L122.55,286.07L122.80,285.52L123.05,284.97L123.31,284.43L123.56,283.88L123.82,283.34L124.08,282.80L124.34,282.26L124.61,281.72L124.87,281.18L125.14,280.65L125.41,280.11L125.69,279.58L125.96,279.05L126.24,278.52L126.52,277.99L126.81,277.46L127.09,276.93L127.38,276.41L127.67,275.89L127.75,275.74M133.06,267.15L133.08,267.12L133.41,266.63L133.76,266.14L134.10,265.65L134.26,265.43M140.60,257.41L140.66,257.35L141.05,256.90L141.45,256.45L141.85,256.01L142.25,255.57L142.65,255.13L143.06,254.69L143.46,254.25L143.87,253.82L144.29,253.39L144.70,252.96L145.12,252.53L145.54,252.10L145.96,251.68L146.38,251.26L146.81,250.84L147.24,250.42L147.67,250.01L148.10,249.60L148.53,249.19L148.97,248.78L149.41,248.37L149.85,247.97L150.29,247.57L150.74,247.17L151.18,246.77L151.63,246.37L151.93,246.11M159.93,239.70L160.01,239.64L160.49,239.29L160.97,238.93L161.46,238.59L161.66,238.44M170.26,232.79L170.28,232.78L170.78,232.47L171.29,232.17L171.80,231.87L172.32,231.57L172.83,231.27L173.34,230.98L173.86,230.69L174.37,230.40L174.89,230.11L175.41,229.82L175.92,229.54L176.44,229.26L176.96,228.98L177.49,228.71L178.01,228.43L178.53,228.16L179.06,227.89L179.58,227.62L180.11,227.36L180.63,227.09L181.16,226.83L181.69,226.57L182.22,226.32L182.75,226.06L183.29,225.81L183.82,225.56L184.35,225.31L184.50,225.24M194.00,221.20L194.11,221.16L194.66,220.95L195.21,220.74L195.76,220.53L196.00,220.44M205.75,217.08L205.81,217.06L206.38,216.89L206.94,216.71L207.51,216.54L208.08,216.37L208.64,216.20L209.21,216.03L209.78,215.86L210.35,215.69L210.92,215.53L211.49,215.37L212.06,215.20L212.63,215.04L213.21,214.89L213.78,214.73L214.35,214.57L214.93,214.42L215.50,214.26L216.08,214.11L216.65,213.96L217.23,213.81L217.81,213.67L218.38,213.52L218.96,213.37L219.54,213.23L220.12,213.09L220.70,212.95L221.28,212.81L221.30,212.80M231.38,210.58L231.50,210.56L232.08,210.44L232.67,210.33L233.26,210.21L233.49,210.16M243.66,208.33L243.76,208.32L244.35,208.22L244.94,208.12L245.54,208.02L246.13,207.93L246.73,207.83L247.32,207.74L247.92,207.65L248.51,207.55L249.11,207.46L249.70,207.37L250.30,207.28L250.90,207.19L251.49,207.10L252.09,207.01L252.69,206.92L253.28,206.84L253.88,206.75L254.48,206.67L255.07,206.58L255.67,206.50L256.27,206.41L256.87,206.33L257.46,206.25L258.06,206.16L258.66,206.08L259.26,206.00L259.65,205.95M269.90,204.64L270.02,204.63L270.62,204.55L271.22,204.48L271.82,204.41L272.01,204.39M281.99,203.23L282.12,203.22L282.72,203.15L283.32,203.08L283.91,203.02L284.51,202.95L285.11,202.89L285.70,202.82L286.30,202.76L286.90,202.70L287.49,202.63L288.09,202.57L288.69,202.50L289.28,202.44L289.88,202.38L290.48,202.32L291.07,202.25L291.67,202.19L292.27,202.13L292.86,202.07L293.46,202.01L294.05,201.95L294.65,201.89L295.25,201.83L295.84,201.77L296.44,201.71L297.03,201.65L297.62,201.59M307.62,200.64L307.76,200.63L308.35,200.57L308.95,200.52L309.54,200.47L309.71,200.45M319.78,199.58L319.81,199.58L320.40,199.53L320.99,199.48L321.59,199.43L322.18,199.39L322.78,199.34L323.37,199.29L323.97,199.24L324.56,199.20L325.16,199.15L325.75,199.10L326.35,199.05L326.94,199.01L327.53,198.96L328.13,198.92L328.72,198.87L329.32,198.82L329.91,198.78L330.51,198.73L331.10,198.69L331.69,198.65L332.29,198.60L332.88,198.56L333.48,198.51L334.07,198.47L334.67,198.43L335.26,198.38L335.56,198.36M345.65,197.66L345.66,197.66L346.25,197.62L346.84,197.58L347.44,197.54L347.75,197.52M357.84,196.90L357.98,196.89L358.57,196.85L359.16,196.82L359.76,196.78L360.35,196.75L360.94,196.71L361.54,196.68L362.13,196.65L362.73,196.61L363.32,196.58L363.91,196.54L364.51,196.51L365.10,196.48L365.69,196.44L366.29,196.41L366.88,196.38L367.47,196.35L368.07,196.31L368.66,196.28L369.26,196.25L369.85,196.22L370.44,196.19L371.04,196.16L371.63,196.12L372.22,196.09L372.82,196.06L373.41,196.03L373.64,196.02M383.74,195.52L383.80,195.52L384.40,195.49L384.99,195.46L385.58,195.43L385.84,195.42M395.96,194.97L395.98,194.97L396.57,194.95L397.16,194.92L397.76,194.90L398.35,194.87L398.95,194.85L399.54,194.82L400.14,194.80L400.73,194.77L401.32,194.75L401.92,194.73L402.51,194.70L403.11,194.68L403.70,194.65L404.29,194.63L404.89,194.61L405.48,194.58L406.08,194.56L406.67,194.54L407.27,194.52L407.86,194.49L408.46,194.47L409.05,194.45L409.64,194.42L410.24,194.40L410.83,194.38L411.43,194.36L411.78,194.34M421.90,193.98L421.99,193.98L422.58,193.96L423.18,193.94L423.77,193.92L424.01,193.91M434.13,193.58L434.19,193.58L434.79,193.56L435.38,193.54L435.98,193.52L436.57,193.50L437.17,193.48L437.77,193.47L438.36,193.45L438.96,193.43L439.55,193.41L440.15,193.39L440.75,193.38L441.34,193.36L441.94,193.34L442.53,193.32L443.13,193.30L443.73,193.29L444.32,193.27L444.92,193.25L445.52,193.23L446.11,193.21L446.71,193.20L447.31,193.18L447.90,193.16L448.50,193.14L449.10,193.13L449.69,193.11L449.96,193.10M460.09,192.82L460.14,192.81L460.74,192.80L461.34,192.78L461.94,192.76L462.19,192.76M472.28,192.48L472.41,192.48L473.01,192.46L473.60,192.45L474.20,192.43L474.80,192.41L475.40,192.40L476.00,192.38L476.60,192.37L477.20,192.35L477.80,192.33L478.40,192.32L479.00,192.30L479.60,192.29L480.20,192.27L480.80,192.25L481.40,192.24L481.99,192.22L482.59,192.20L483.19,192.19L483.79,192.17L484.39,192.16L484.99,192.14L485.59,192.12L486.19,192.11L486.79,192.09L487.39,192.08L488.00,192.06L488.08,192.06" stroke="#008000" stroke-width="3.50"/>
<path d="M117.40,5.00 L117.62,5.94 L117.84,6.88 L118.06,7.82 L118.29,8.76 L118.51,9.70 L118.73,10.63 L118.96,11.57 L119.18,12.52 L119.41,13.46 L119.64,14.40 L119.86,15.34 L120.09,16.28 L120.32,17.22 L120.55,18.16 L120.78,19.10 L121.02,20.04 L121.25,20.98 L121.48,21.93 L121.72,22.87 L121.96,23.81 L122.19,24.75 L122.43,25.69 L122.67,26.63 L122.91,27.58 L123.16,28.52 L123.40,29.46 L123.64,30.40 L123.89,31.34 L124.14,32.28 L124.39,33.22 L124.64,34.16 L124.89,35.10 L125.14,36.04 L125.40,36.98 L125.65,37.92 L125.91,38.86 L126.17,39.80 L126.43,40.74 L126.69,41.68 L126.96,42.62 L127.22,43.56 L127.49,44.49 L127.76,45.43 L128.03,46.37 L128.30,47.30 L128.58,48.24 L128.86,49.17 L129.13,50.11 L129.41,51.04 L129.70,51.97 L129.98,52.90 L130.27,53.84 L130.55,54.77 L130.85,55.70 L131.14,56.63 L131.43,57.56 L131.73,58.49 L132.03,59.41 L132.33,60.34 L132.63,61.27 L132.94,62.19 L133.24,63.12 L133.55,64.04 L133.86,64.96 L134.18,65.89 L134.50,66.81 L134.82,67.73 L135.14,68.65 L135.46,69.56 L135.79,70.48 L136.12,71.40 L136.45,72.31 L136.78,73.23 L137.12,74.14 L137.46,75.05 L137.80,75.97 L138.14,76.88 L138.49,77.78 L138.84,78.69 L139.20,79.60 L139.55,80.50 L139.91,81.41 L140.27,82.31 L140.63,83.21 L141.00,84.11 L141.37,85.01 L141.74,85.91 L142.12,86.81 L142.50,87.70 L142.88,88.59 L143.27,89.49 L143.65,90.38 L144.05,91.27 L144.44,92.16 L144.84,93.04 L145.24,93.93 L145.64,94.81 L146.05,95.69 L146.46,96.57 L146.87,97.45 L147.29,98.33 L147.71,99.21 L148.14,100.08 L148.56,100.95 L149.00,101.82 L149.43,102.69 L149.87,103.56 L150.31,104.43 L150.75,105.29 L151.20,106.15 L151.65,107.01 L152.11,107.87 L152.57,108.73 L153.03,109.58 L153.50,110.43 L153.97,111.29 L154.45,112.14 L154.92,112.98 L155.41,113.83 L155.89,114.67 L156.38,115.51 L156.88,116.35 L157.37,117.19 L157.88,118.02 L158.38,118.86 L158.89,119.69 L159.41,120.52 L159.92,121.34 L160.45,122.17 L160.97,122.99 L161.50,123.81 L162.04,124.62 L162.57,125.44 L163.12,126.25 L163.66,127.06 L164.21,127.86 L164.77,128.66 L165.33,129.46 L165.89,130.26 L166.46,131.05 L167.03,131.84 L167.60,132.63 L168.18,133.41 L168.77,134.19 L169.36,134.96 L169.95,135.74 L170.55,136.51 L171.15,137.27 L171.75,138.03 L172.36,138.79 L172.98,139.54 L173.59,140.29 L174.22,141.04 L174.84,141.78 L175.47,142.51 L176.11,143.25 L176.75,143.98 L177.39,144.70 L178.04,145.42 L178.70,146.13 L179.35,146.84 L180.02,147.55 L180.68,148.25 L181.35,148.95 L182.03,149.64 L182.71,150.32 L183.40,151.00 L184.08,151.68 L184.78,152.35 L185.48,153.02 L186.18,153.68 L186.89,154.33 L187.60,154.98 L188.32,155.63 L189.04,156.26 L189.76,156.90 L190.49,157.52 L191.23,158.14 L191.97,158.76 L192.71,159.37 L193.46,159.97 L194.22,160.57 L194.97,161.16 L195.74,161.75 L196.50,162.32 L197.28,162.90 L198.06,163.46 L198.84,164.02 L199.62,164.58 L200.42,165.12 L201.21,165.66 L202.01,166.19 L202.82,166.72 L203.63,167.24 L204.45,167.75 L205.27,168.26 L206.10,168.76 L206.93,169.25 L207.76,169.73 L208.60,170.21 L209.45,170.68 L210.30,171.14 L211.15,171.59 L212.01,172.04 L212.88,172.48 L213.75,172.91 L214.62,173.33 L215.51,173.75 L216.39,174.15 L217.28,174.55 L218.18,174.95 L219.08,175.33 L219.98,175.70 L220.89,176.07 L221.81,176.43 L222.73,176.78 L223.66,177.12 L224.58,177.46 L225.52,177.79 L226.45,178.11 L227.39,178.42 L228.33,178.73 L229.28,179.03 L230.22,179.32 L231.17,179.61 L232.12,179.89 L233.07,180.17 L234.02,180.44 L234.97,180.70 L235.92,180.96 L236.87,181.22 L237.83,181.47 L238.78,181.71 L239.73,181.94 L240.68,182.17 L241.63,182.39 L242.59,182.61 L243.54,182.81 L244.49,183.01 L245.45,183.20 L246.41,183.38 L247.36,183.55 L248.32,183.71 L249.28,183.87 L250.23,184.01 L251.19,184.15 L252.15,184.28 L253.11,184.41 L254.07,184.52 L255.03,184.63 L255.99,184.74 L256.95,184.84 L257.92,184.93 L258.88,185.02 L259.84,185.10 L260.81,185.18 L261.77,185.25 L262.73,185.32 L263.70,185.38 L264.66,185.44 L265.63,185.50 L266.59,185.55 L267.56,185.60 L268.52,185.65 L269.49,185.70 L270.46,185.74 L271.42,185.78 L272.39,185.82 L273.36,185.86 L274.32,185.89 L275.29,185.93 L276.26,185.96 L277.23,186.00 L278.19,186.03 L279.16,186.07 L280.13,186.10 L281.10,186.13 L282.06,186.16 L283.03,186.19 L284.00,186.22 L284.97,186.25 L285.94,186.28 L286.90,186.31 L287.87,186.33 L288.84,186.36 L289.81,186.39 L290.78,186.41 L291.75,186.44 L292.71,186.46 L293.68,186.49 L294.65,186.51 L295.62,186.53 L296.59,186.55 L297.56,186.58 L298.53,186.60 L299.50,186.62 L300.47,186.64 L301.44,186.66 L302.41,186.68 L303.38,186.69 L304.35,186.71 L305.32,186.73 L306.29,186.75 L307.26,186.76 L308.23,186.78 L309.20,186.79 L310.17,186.81 L311.14,186.82 L312.11,186.83 L313.08,186.85 L314.05,186.86 L315.02,186.87 L315.99,186.88 L316.96,186.89 L317.93,186.91 L318.90,186.92 L319.87,186.93 L320.84,186.93 L321.81,186.94 L322.78,186.95 L323.75,186.96 L324.73,186.97 L325.70,186.97 L326.67,186.98 L327.64,186.99 L328.61,186.99 L329.58,187.00 L330.55,187.00 L331.53,187.01 L332.50,187.01 L333.47,187.02 L334.44,187.02 L335.41,187.02 L336.38,187.03 L337.36,187.03 L338.33,187.03 L339.30,187.03 L340.27,187.03 L341.24,187.03 L342.22,187.03 L343.19,187.03 L344.16,187.03 L345.13,187.03 L346.10,187.03 L347.08,187.03 L348.05,187.03 L349.02,187.03 L349.99,187.02 L350.97,187.02 L351.94,187.02 L352.91,187.02 L353.88,187.01 L354.86,187.01 L355.83,187.00 L356.80,187.00 L357.77,187.00 L358.75,186.99 L359.72,186.99 L360.69,186.98 L361.66,186.98 L362.64,186.97 L363.61,186.96 L364.58,186.96 L365.56,186.95 L366.53,186.94 L367.50,186.94 L368.48,186.93 L369.45,186.92 L370.42,186.91 L371.39,186.91 L372.37,186.90 L373.34,186.89 L374.31,186.88 L375.29,186.87 L376.26,186.86 L377.23,186.85 L378.21,186.84 L379.18,186.83 L380.15,186.82 L381.13,186.82 L382.10,186.81 L383.07,186.79 L384.05,186.78 L385.02,186.77 L385.99,186.76 L386.96,186.75 L387.94,186.74 L388.91,186.73 L389.88,186.72 L390.86,186.71 L391.83,186.70 L392.80,186.69 L393.78,186.67 L394.75,186.66 L395.72,186.65 L396.70,186.64 L397.67,186.63 L398.64,186.61 L399.62,186.60 L400.59,186.59 L401.56,186.58 L402.54,186.57 L403.51,186.55 L404.48,186.54 L405.46,186.53 L406.43,186.52 L407.40,186.50 L408.38,186.49 L409.35,186.48 L410.32,186.47 L411.30,186.45 L412.27,186.44 L413.24,186.43 L414.22,186.41 L415.19,186.40 L416.16,186.39 L417.14,186.38 L418.11,186.36 L419.08,186.35 L420.05,186.34 L421.03,186.33 L422.00,186.31 L422.97,186.30 L423.95,186.29 L424.92,186.28 L425.89,186.26 L426.86,186.25 L427.84,186.24 L428.81,186.23 L429.78,186.21 L430.76,186.20 L431.73,186.19 L432.70,186.18 L433.67,186.17 L434.65,186.15 L435.62,186.14 L436.59,186.13 L437.56,186.12 L438.54,186.11 L439.51,186.10 L440.48,186.08 L441.45,186.07 L442.43,186.06 L443.40,186.05 L444.37,186.04 L445.34,186.03 L446.32,186.02 L447.29,186.01 L448.26,186.00 L449.23,185.99 L450.20,185.98 L451.18,185.97 L452.15,185.96 L453.12,185.95 L454.09,185.94 L455.06,185.93 L456.04,185.93 L457.01,185.92 L457.98,185.91 L458.95,185.90 L459.92,185.89 L460.89,185.89 L461.86,185.88 L462.84,185.87 L463.81,185.86 L464.78,185.86 L465.75,185.85 L466.72,185.84 L467.69,185.84 L468.66,185.83 L469.63,185.83 L470.60,185.82 L471.58,185.82 L472.55,185.81 L473.52,185.81 L474.49,185.80 L475.46,185.80 L476.43,185.80 L477.40,185.79 L478.37,185.79 L479.34,185.79 L480.31,185.79 L481.28,185.78 L482.25,185.78 L483.22,185.78 L484.19,185.78 L485.16,185.78 L486.13,185.78 L487.10,185.78 L488.07,185.78 L489.04,185.78 L490.01,185.78 L490.98,185.78 L491.95,185.78 L492.92,185.79 L493.88,185.79 L494.85,185.79 L495.82,185.80 L496.79,185.80" stroke="#7f00ff" stroke-width="4.20" stroke-linecap="butt"/>
</g>
<g clip-path="url(#clipR)" fill="none" stroke-linecap="round" stroke-linejoin="round">
<path d="M648.32,11.35L648.33,11.39L648.51,11.95L648.69,12.51L648.87,13.08L649.05,13.64L649.23,14.21L649.41,14.77L649.60,15.33L649.78,15.90L649.96,16.47L650.15,17.03L650.33,17.60L650.52,18.16L650.71,18.73L650.89,19.30L651.08,19.86L651.27,20.43L651.46,21.00L651.65,21.56L651.84,22.13L652.03,22.70L652.23,23.27L652.41,23.80M658.36,40.06L658.39,40.13L658.62,40.70L658.84,41.26L659.07,41.83L659.29,42.39L659.52,42.95L659.75,43.51L659.98,44.08L660.21,44.64L660.45,45.20L660.68,45.76L660.92,46.32L661.15,46.88L661.39,47.44L661.63,48.00L661.87,48.56L662.11,49.12L662.36,49.67L662.60,50.23L662.85,50.79L663.09,51.34L663.33,51.87M670.88,67.15L670.95,67.27L671.24,67.81L671.53,68.34L671.83,68.87L672.12,69.40L672.42,69.92L672.72,70.45L673.02,70.98L673.32,71.50L673.62,72.02L673.92,72.55L674.23,73.07L674.54,73.59L674.85,74.11L675.16,74.63L675.47,75.14L675.78,75.66L676.10,76.17L676.41,76.69L676.73,77.20L677.05,77.71L677.37,78.22L677.47,78.37M687.59,92.65L687.66,92.74L688.03,93.21L688.41,93.67L688.78,94.13L689.16,94.59L689.54,95.05L689.92,95.51L690.30,95.96L690.68,96.41L691.07,96.86L691.45,97.31L691.84,97.76L692.23,98.21L692.63,98.65L693.02,99.09L693.42,99.53L693.81,99.97L694.21,100.41L694.61,100.84L695.02,101.28L695.42,101.71L695.83,102.14L696.24,102.56L696.65,102.99L696.68,103.02M710.17,115.29L710.27,115.37L710.74,115.74L711.20,116.11L711.66,116.47L712.13,116.84L712.59,117.20L713.06,117.56L713.53,117.91L714.00,118.27L714.47,118.63L714.95,118.98L715.42,119.33L715.90,119.68L716.38,120.03L716.86,120.38L717.34,120.72L717.82,121.06L718.30,121.41L718.78,121.75L719.27,122.08L719.76,122.42L720.24,122.76L720.73,123.09L720.85,123.17M735.75,132.28L735.82,132.32L736.35,132.60L736.87,132.89L737.40,133.17L737.92,133.46L738.45,133.74L738.98,134.02L739.51,134.30L740.04,134.57L740.57,134.85L741.10,135.13L741.64,135.40L742.17,135.67L742.71,135.94L743.24,136.21L743.78,136.48L744.32,136.74L744.85,137.01L745.39,137.27L745.93,137.54L746.47,137.80L747.02,138.06L747.12,138.10M762.66,144.88L762.76,144.92L763.32,145.14L763.88,145.36L764.44,145.58L765.01,145.80L765.57,146.02L766.14,146.24L766.70,146.45L767.27,146.67L767.83,146.88L768.40,147.09L768.96,147.30L769.53,147.51L770.10,147.72L770.67,147.93L771.23,148.14L771.80,148.34L772.37,148.55L772.94,148.75L773.51,148.95L774.08,149.15L774.61,149.34M790.81,154.55L790.90,154.58L791.47,154.75L792.05,154.92L792.63,155.09L793.21,155.25L793.79,155.42L794.37,155.59L794.95,155.75L795.52,155.92L796.10,156.08L796.68,156.24L797.26,156.40L797.84,156.56L798.42,156.72L799.00,156.88L799.58,157.04L800.16,157.20L800.74,157.35L801.32,157.51L801.90,157.66L802.48,157.82L803.06,157.97L803.45,158.07M820.40,162.14L820.40,162.14L820.99,162.27L821.57,162.40L822.16,162.52L822.74,162.65L823.33,162.78L823.91,162.90L824.50,163.03L825.08,163.15L825.67,163.27L826.25,163.39L826.84,163.52L827.43,163.64L828.01,163.76L828.60,163.88L829.18,164.00L829.77,164.11L830.36,164.23L830.94,164.35L831.53,164.46L832.12,164.58L832.70,164.69L833.25,164.80M850.35,167.87L850.36,167.87L850.95,167.97L851.54,168.06L852.13,168.16L852.72,168.25L853.31,168.35L853.90,168.44L854.49,168.54L855.08,168.63L855.67,168.73L856.26,168.82L856.85,168.91L857.44,169.00L858.03,169.10L858.62,169.19L859.21,169.28L859.80,169.37L860.39,169.46L860.99,169.55L861.58,169.64L862.17,169.72L862.76,169.81L863.13,169.87M880.14,172.23L880.24,172.24L880.83,172.32L881.42,172.40L882.02,172.47L882.61,172.55L883.20,172.63L883.80,172.70L884.39,172.78L884.98,172.85L885.58,172.93L886.17,173.00L886.76,173.08L887.36,173.15L887.95,173.23L888.55,173.30L889.14,173.38L889.73,173.45L890.33,173.52L890.92,173.60L891.52,173.67L892.11,173.74L892.70,173.81L892.96,173.85M910.04,175.86L910.10,175.86L910.69,175.93L911.29,176.00L911.88,176.07L912.48,176.13L913.07,176.20L913.67,176.27L914.26,176.34L914.86,176.41L915.45,176.47L916.05,176.54L916.64,176.61L917.24,176.67L917.84,176.74L918.43,176.81L919.03,176.87L919.62,176.94L920.22,177.01L920.81,177.07L921.41,177.14L922.00,177.21L922.60,177.27L922.97,177.31M940.16,179.14L940.18,179.14L940.77,179.20L941.37,179.26L941.96,179.32L942.56,179.38L943.16,179.44L943.75,179.50L944.35,179.56L944.95,179.62L945.54,179.68L946.14,179.74L946.73,179.80L947.33,179.86L947.93,179.92L948.52,179.97L949.12,180.03L949.72,180.09L950.31,180.15L950.91,180.20L951.51,180.26L952.10,180.32L952.70,180.37L953.11,180.41M970.33,181.93L970.46,181.94L971.05,181.99L971.65,182.04L972.25,182.09L972.85,182.13L973.44,182.18L974.04,182.23L974.64,182.28L975.24,182.32L975.83,182.37L976.43,182.42L977.03,182.46L977.62,182.51L978.22,182.55L978.82,182.60L979.42,182.64L980.01,182.69L980.61,182.73L981.21,182.77L981.81,182.82L982.41,182.86L983.00,182.90L983.31,182.92M1000.57,184.01L1000.64,184.01L1001.24,184.04L1001.84,184.07L1002.43,184.10L1003.03,184.14L1003.63,184.17L1004.23,184.20L1004.83,184.23L1005.43,184.26L1006.02,184.28L1006.62,184.31L1007.22,184.34L1007.82,184.37L1008.42,184.40L1009.02,184.42L1009.61,184.45L1010.21,184.48L1010.81,184.50L1011.41,184.53L1012.01,184.55L1012.61,184.58L1013.21,184.60L1013.58,184.62" stroke="#000000" stroke-width="3.40"/>
<path d="M627.71,123.00L627.76,123.12L627.95,123.62L628.14,124.12L628.34,124.62L628.53,125.13L628.72,125.64L628.91,126.15L629.10,126.66L629.29,127.18L629.48,127.69L629.67,128.21L629.87,128.74L630.06,129.26L630.25,129.79L630.44,130.32L630.63,130.84L630.82,131.38L631.01,131.91L631.20,132.44L631.40,132.98L631.59,133.51L631.68,133.76M635.27,143.39L635.28,143.41L635.50,143.95L635.72,144.50L635.94,145.04L635.98,145.15M640.21,154.40L640.22,154.41L640.48,154.92L640.75,155.43L641.03,155.94L641.10,156.08M646.53,164.43L646.57,164.47L646.91,164.91L647.26,165.34L647.62,165.77L647.97,166.20L648.34,166.62L648.70,167.03L649.07,167.45L649.45,167.86L649.83,168.26L650.21,168.66L650.60,169.06L650.99,169.45L651.38,169.84L651.78,170.23L652.18,170.61L652.58,170.99L652.99,171.36L653.40,171.73L653.81,172.10L654.23,172.46L654.47,172.66M662.75,178.69L662.75,178.69L663.23,178.99L663.71,179.28L664.19,179.57L664.38,179.69M673.54,184.45L673.56,184.46L674.07,184.69L674.59,184.92L675.11,185.15L675.30,185.24M684.73,188.93L684.75,188.94L685.29,189.13L685.82,189.31L686.36,189.50L686.89,189.68L687.43,189.86L687.97,190.04L688.50,190.21L689.04,190.39L689.58,190.56L690.12,190.73L690.66,190.90L691.20,191.06L691.74,191.23L692.28,191.39L692.82,191.55L693.36,191.71L693.90,191.87L694.44,192.03L694.98,192.18L695.53,192.33L695.85,192.42M705.98,194.94L706.04,194.96L706.59,195.08L707.14,195.20L707.69,195.31L707.88,195.35M718.14,197.28L718.20,197.29L718.76,197.38L719.31,197.47L719.87,197.56L720.04,197.58M729.99,198.96L730.07,198.97L730.63,199.04L731.19,199.11L731.75,199.17L732.31,199.24L732.87,199.30L733.43,199.37L734.00,199.43L734.56,199.49L735.12,199.55L735.68,199.61L736.25,199.67L736.81,199.72L737.37,199.78L737.93,199.84L738.50,199.89L739.06,199.95L739.62,200.00L740.19,200.05L740.75,200.10L741.32,200.16L741.47,200.17M751.79,200.98L751.92,200.99L752.48,201.03L753.05,201.07L753.61,201.11L753.69,201.11M763.92,201.72L763.96,201.72L764.53,201.75L765.10,201.78L765.66,201.81L765.82,201.82M775.83,202.31L775.88,202.32L776.45,202.34L777.01,202.37L777.58,202.40L778.15,202.42L778.71,202.45L779.28,202.48L779.85,202.50L780.42,202.53L780.98,202.56L781.55,202.58L782.12,202.61L782.68,202.64L783.25,202.66L783.82,202.69L784.38,202.72L784.95,202.74L785.52,202.77L786.08,202.79L786.65,202.82L787.22,202.85L787.34,202.85M797.65,203.31L797.70,203.31L798.26,203.34L798.83,203.36L799.40,203.39L799.56,203.40M809.77,203.83L809.87,203.83L810.43,203.85L811.00,203.88L811.56,203.90L811.67,203.91M821.69,204.31L821.74,204.31L822.31,204.33L822.87,204.35L823.44,204.37L824.01,204.40L824.57,204.42L825.14,204.44L825.70,204.46L826.27,204.48L826.83,204.50L827.40,204.53L827.96,204.55L828.53,204.57L829.09,204.59L829.66,204.61L830.22,204.63L830.79,204.65L831.35,204.67L831.92,204.70L832.48,204.72L833.05,204.74L833.20,204.74M843.52,205.11L843.64,205.12L844.21,205.14L844.77,205.16L845.33,205.17L845.42,205.18M855.64,205.52L855.64,205.52L856.20,205.54L856.77,205.56L857.33,205.57L857.54,205.58M867.57,205.89L867.64,205.89L868.20,205.91L868.76,205.93L869.33,205.94L869.89,205.96L870.46,205.98L871.02,205.99L871.59,206.01L872.15,206.03L872.72,206.04L873.28,206.06L873.84,206.08L874.41,206.09L874.97,206.11L875.54,206.12L876.10,206.14L876.67,206.16L877.23,206.17L877.79,206.19L878.36,206.20L878.92,206.22L879.10,206.23M889.43,206.50L889.50,206.50L890.07,206.52L890.63,206.53L891.20,206.55L891.34,206.55M901.57,206.80L901.64,206.80L902.20,206.82L902.77,206.83L903.33,206.84L903.48,206.84M913.51,207.07L913.63,207.07L914.19,207.08L914.76,207.09L915.32,207.10L915.89,207.12L916.45,207.13L917.02,207.14L917.58,207.15L918.14,207.16L918.71,207.17L919.27,207.18L919.84,207.20L920.40,207.21L920.97,207.22L921.53,207.23L922.10,207.24L922.66,207.25L923.23,207.26L923.79,207.27L924.35,207.28L924.92,207.29L925.04,207.30M935.37,207.48L935.51,207.48L936.07,207.49L936.64,207.50L937.20,207.51L937.28,207.51M947.51,207.67L947.65,207.67L948.22,207.68L948.78,207.69L949.35,207.69L949.42,207.69M959.49,207.83L959.52,207.83L960.09,207.83L960.65,207.84L961.22,207.85L961.78,207.85L962.35,207.86L962.91,207.87L963.48,207.87L964.04,207.88L964.61,207.88L965.18,207.89L965.74,207.90L966.31,207.90L966.87,207.91L967.44,207.91L968.00,207.92L968.57,207.93L969.14,207.93L969.70,207.94L970.27,207.94L970.83,207.95L971.06,207.95M981.43,208.04L981.44,208.04L982.01,208.05L982.58,208.05L983.14,208.05L983.34,208.06M993.61,208.12L993.62,208.12L994.19,208.12L994.76,208.13L995.32,208.13L995.52,208.13M1005.56,208.17L1005.67,208.17L1006.24,208.17L1006.81,208.18L1007.37,208.18L1007.94,208.18L1008.51,208.18L1009.08,208.18L1009.64,208.18L1010.21,208.18L1010.78,208.18L1011.35,208.19L1011.91,208.19L1012.48,208.19L1013.05,208.19L1013.62,208.19L1014.18,208.19L1014.75,208.19L1015.32,208.19L1015.60,208.19" stroke="#ff00ff" stroke-width="3.60"/>
<path d="M628.35,160.35L628.69,161.29L628.91,161.86L629.12,162.43L629.22,162.67M638.41,178.62L638.45,178.67L638.79,179.09L639.13,179.50L639.48,179.91L639.83,180.32L640.16,180.69M655.84,193.39L655.92,193.44L656.37,193.70L656.82,193.95L657.28,194.21L657.74,194.46L658.20,194.71L658.29,194.76M676.88,202.09L676.99,202.12L677.51,202.27L678.02,202.41L678.54,202.55L679.06,202.68L679.55,202.81M698.86,206.44L698.95,206.45L699.50,206.52L700.04,206.59L700.58,206.65L701.12,206.72L701.56,206.77M720.95,208.44L721.02,208.45L721.57,208.48L722.11,208.51L722.66,208.55L723.20,208.58L723.66,208.61M743.10,209.60L743.18,209.60L743.73,209.62L744.27,209.64L744.81,209.67L745.35,209.69L745.80,209.70M765.26,210.31L765.34,210.31L765.88,210.32L766.42,210.34L766.96,210.35L767.50,210.36L767.97,210.37M787.43,210.71L787.55,210.72L788.09,210.72L788.63,210.73L789.17,210.74L789.70,210.74L790.13,210.75M809.53,210.95L809.61,210.95L810.14,210.95L810.68,210.96L811.22,210.96L811.76,210.97L812.23,210.97M831.63,211.13L831.69,211.13L832.23,211.14L832.77,211.14L833.31,211.15L833.85,211.15L834.33,211.16M853.73,211.30L853.81,211.30L854.35,211.31L854.89,211.31L855.43,211.31L855.97,211.32L856.43,211.32M875.83,211.45L875.95,211.45L876.49,211.45L877.03,211.45L877.57,211.46L878.11,211.46L878.54,211.46M897.99,211.57L898.11,211.57L898.65,211.57L899.19,211.58L899.73,211.58L900.27,211.58L900.70,211.59M920.16,211.67L920.28,211.67L920.82,211.67L921.36,211.68L921.90,211.68L922.44,211.68L922.87,211.68M942.33,211.75L942.45,211.75L942.99,211.75L943.53,211.75L944.07,211.75L944.61,211.75L945.03,211.75M964.41,211.80L964.47,211.80L965.01,211.80L965.55,211.80L966.09,211.80L966.63,211.80L967.11,211.80M986.50,211.82L986.61,211.82L987.15,211.82L987.69,211.82L988.23,211.82L988.77,211.82L989.20,211.82M1008.58,211.81L1008.59,211.81L1009.13,211.81L1009.67,211.81L1010.21,211.80L1010.75,211.80L1011.28,211.80" stroke="#000080" stroke-width="4.00"/>
<path d="M627.98,194.04l0.01,0M634.38,197.40l0.01,0M641.03,200.24l0.01,0M647.86,202.60l0.01,0M654.83,204.52l0.01,0M661.89,206.03l0.01,0M668.99,207.21l0.01,0M676.12,208.13l0.01,0M683.28,208.83l0.01,0M690.44,209.40l0.01,0M697.62,209.87l0.01,0M704.80,210.31l0.01,0M712.01,210.73l0.01,0M719.22,211.12l0.01,0M726.43,211.48l0.01,0M733.64,211.82l0.01,0M740.85,212.13l0.01,0M748.01,212.42l0.01,0M755.18,212.69l0.01,0M762.35,212.94l0.01,0M769.51,213.17l0.01,0M776.69,213.38l0.01,0M783.93,213.58l0.01,0M791.18,213.76l0.01,0M798.43,213.92l0.01,0M805.68,214.07l0.01,0M812.93,214.21l0.01,0M820.18,214.33l0.01,0M827.43,214.44l0.01,0M834.67,214.55l0.01,0M841.92,214.64l0.01,0M849.17,214.72l0.01,0M856.42,214.80l0.01,0M863.67,214.87l0.01,0M870.92,214.93l0.01,0M878.17,214.99l0.01,0M885.42,215.04l0.01,0M892.67,215.10l0.01,0M899.92,215.15l0.01,0M907.17,215.20l0.01,0M914.42,215.25l0.01,0M921.67,215.31l0.01,0M928.92,215.36l0.01,0M936.17,215.42l0.01,0M943.42,215.49l0.01,0M950.67,215.56l0.01,0M957.92,215.63l0.01,0M965.17,215.72l0.01,0M972.42,215.81l0.01,0M979.67,215.92l0.01,0M986.92,216.03l0.01,0M994.17,216.15l0.01,0M1001.41,216.29l0.01,0M1008.66,216.44l0.01,0" stroke="#ff0000" stroke-width="4.20"/>
<path d="M628.05,222.55L628.12,222.58L628.62,222.72L629.13,222.86L629.63,222.99L630.13,223.11L630.63,223.22L631.14,223.33L631.64,223.42L632.14,223.51L632.65,223.59L632.67,223.59M641.96,223.89L642.02,223.88L642.53,223.85L643.04,223.81L643.55,223.77L644.06,223.72L644.57,223.67L645.07,223.62L645.58,223.57L646.09,223.51L646.56,223.45M655.59,222.12L655.68,222.11L656.19,222.03L656.71,221.94L657.22,221.86L657.73,221.79L658.25,221.71L658.76,221.63L659.27,221.55L659.78,221.48L660.15,221.42M669.21,220.23L669.29,220.22L669.80,220.16L670.32,220.10L670.83,220.05L671.35,219.99L671.86,219.93L672.38,219.87L672.89,219.82L673.41,219.76L673.80,219.72M682.89,218.87L682.94,218.87L683.46,218.83L683.97,218.78L684.49,218.74L685.00,218.70L685.52,218.66L686.04,218.62L686.55,218.58L687.07,218.54L687.49,218.51M696.63,217.93L696.63,217.93L697.14,217.90L697.66,217.87L698.18,217.84L698.70,217.81L699.21,217.78L699.73,217.76L700.25,217.73L700.76,217.71L701.28,217.68L701.29,217.68M710.52,217.28L710.60,217.27L711.11,217.26L711.63,217.24L712.15,217.22L712.67,217.20L713.19,217.18L713.70,217.16L714.22,217.14L714.74,217.12L715.18,217.11M724.39,216.82L724.45,216.82L724.97,216.81L725.49,216.79L726.00,216.78L726.52,216.76L727.04,216.75L727.56,216.73L728.08,216.72L728.59,216.70L729.00,216.69M738.12,216.46L738.18,216.46L738.70,216.44L739.21,216.43L739.73,216.42L740.25,216.41L740.77,216.39L741.29,216.38L741.80,216.37L742.32,216.36L742.73,216.35M751.86,216.15L751.90,216.15L752.42,216.14L752.94,216.12L753.46,216.11L753.98,216.10L754.49,216.09L755.01,216.08L755.53,216.07L756.05,216.06L756.47,216.05M765.59,215.89L765.63,215.89L766.15,215.88L766.67,215.87L767.19,215.86L767.70,215.85L768.22,215.84L768.74,215.83L769.26,215.83L769.78,215.82L770.21,215.81M779.33,215.67L779.36,215.67L779.88,215.66L780.40,215.66L780.91,215.65L781.43,215.64L781.95,215.64L782.47,215.63L782.99,215.62L783.50,215.62L783.95,215.61M793.07,215.50L793.09,215.50L793.61,215.49L794.12,215.49L794.64,215.48L795.16,215.48L795.68,215.47L796.20,215.46L796.71,215.46L797.23,215.45L797.67,215.45M806.76,215.36L806.82,215.36L807.33,215.36L807.85,215.35L808.37,215.35L808.89,215.34L809.41,215.34L809.92,215.34L810.44,215.33L810.96,215.33L811.36,215.32M820.46,215.26L820.54,215.26L821.06,215.25L821.58,215.25L822.10,215.25L822.62,215.24L823.13,215.24L823.65,215.24L824.17,215.23L824.69,215.23L825.06,215.23M834.16,215.18L834.27,215.18L834.79,215.18L835.31,215.17L835.83,215.17L836.35,215.17L836.86,215.17L837.38,215.16L837.90,215.16L838.42,215.16L838.76,215.16M847.86,215.12L847.87,215.12L848.39,215.12L848.91,215.12L849.43,215.12L849.95,215.12L850.46,215.11L850.98,215.11L851.50,215.11L852.02,215.11L852.46,215.11M861.56,215.08L861.60,215.08L862.12,215.08L862.64,215.08L863.16,215.08L863.67,215.08L864.19,215.08L864.71,215.08L865.23,215.08L865.75,215.08L866.16,215.08M875.26,215.06L875.33,215.06L875.85,215.06L876.37,215.06L876.89,215.06L877.40,215.06L877.92,215.06L878.44,215.06L878.96,215.06L879.48,215.05L879.86,215.05M888.96,215.04L889.06,215.04L889.58,215.04L890.10,215.04L890.61,215.04L891.13,215.04L891.65,215.04L892.17,215.04L892.69,215.04L893.20,215.04L893.56,215.04M902.66,215.03L902.79,215.03L903.31,215.03L903.83,215.03L904.34,215.03L904.86,215.03L905.38,215.03L905.90,215.03L906.42,215.03L906.93,215.03L907.26,215.03M916.36,215.02L916.39,215.02L916.91,215.02L917.43,215.02L917.94,215.02L918.46,215.02L918.98,215.02L919.50,215.02L920.02,215.02L920.53,215.02L920.96,215.01M930.08,215.00L930.12,215.00L930.64,215.00L931.15,215.00L931.67,215.00L932.19,215.00L932.71,215.00L933.23,215.00L933.75,215.00L934.26,215.00L934.73,214.99M943.92,214.98L943.98,214.98L944.50,214.97L945.01,214.97L945.53,214.97L946.05,214.97L946.57,214.97L947.09,214.97L947.60,214.97L948.12,214.96L948.56,214.96M957.75,214.93L957.84,214.93L958.35,214.93L958.87,214.93L959.39,214.93L959.91,214.93L960.43,214.92L960.94,214.92L961.46,214.92L961.98,214.92L962.39,214.92M971.58,214.87L971.69,214.87L972.21,214.87L972.73,214.87L973.25,214.86L973.77,214.86L974.28,214.86L974.80,214.85L975.32,214.85L975.84,214.85L976.21,214.85M985.38,214.79L985.42,214.79L985.94,214.78L986.46,214.78L986.98,214.78L987.50,214.77L988.01,214.77L988.53,214.76L989.05,214.76L989.57,214.76L990.01,214.75M999.18,214.67L999.28,214.67L999.80,214.67L1000.32,214.66L1000.84,214.66L1001.35,214.65L1001.87,214.65L1002.39,214.64L1002.91,214.64L1003.43,214.63L1003.81,214.63M1012.96,214.53L1013.01,214.53L1013.53,214.52L1014.05,214.51L1014.56,214.51L1015.08,214.50L1015.60,214.50" stroke="#0000ff" stroke-width="3.70"/>
<path d="M627.61,327.59L627.65,327.47L627.82,326.94L628.00,326.40L628.17,325.87L628.35,325.33L628.52,324.80L628.70,324.26L628.87,323.72L629.05,323.18L629.22,322.64L629.40,322.10L629.58,321.56L629.76,321.01L629.94,320.47L630.12,319.92L630.30,319.38L630.48,318.83L630.66,318.29L630.85,317.74L631.03,317.19L631.22,316.65L631.40,316.10L631.59,315.55L631.78,315.00L631.97,314.45L632.16,313.90L632.35,313.36L632.55,312.81L632.65,312.50M636.24,302.98L636.25,302.94L636.47,302.40L636.70,301.85L636.92,301.31L637.02,301.06M641.16,291.99L641.17,291.97L641.43,291.45L641.70,290.93L641.97,290.41L642.24,289.90L642.51,289.38L642.78,288.87L643.06,288.35L643.34,287.84L643.63,287.34L643.91,286.83L644.20,286.32L644.49,285.82L644.79,285.32L645.08,284.82L645.38,284.32L645.68,283.83L645.99,283.34L646.30,282.85L646.61,282.36L646.92,281.87L647.24,281.39L647.56,280.91L647.88,280.43L648.21,279.95L648.54,279.48L648.87,279.01L649.12,278.66M655.39,270.96L655.47,270.87L655.86,270.45L656.26,270.03L656.66,269.62L656.87,269.40M664.59,262.47L664.64,262.44L665.09,262.08L665.55,261.74L666.01,261.39L666.47,261.05L666.93,260.71L667.40,260.37L667.87,260.04L668.34,259.71L668.82,259.38L669.29,259.06L669.77,258.74L670.25,258.42L670.73,258.10L671.22,257.79L671.71,257.48L672.19,257.17L672.69,256.87L673.18,256.57L673.67,256.27L674.17,255.97L674.67,255.68L675.17,255.39L675.67,255.10L676.18,254.82L676.68,254.53L677.19,254.25L677.70,253.98L678.21,253.70L678.28,253.66M687.67,249.11L687.73,249.08L688.26,248.84L688.79,248.61L689.33,248.38L689.63,248.25M699.20,244.49L699.26,244.46L699.80,244.27L700.34,244.08L700.89,243.88L701.43,243.69L701.97,243.51L702.52,243.32L703.06,243.14L703.61,242.95L704.16,242.77L704.70,242.59L705.25,242.41L705.80,242.24L706.34,242.06L706.89,241.89L707.44,241.71L707.99,241.54L708.54,241.37L709.09,241.21L709.64,241.04L710.19,240.88L710.74,240.71L711.29,240.55L711.84,240.39L712.40,240.23L712.95,240.08L713.50,239.92L714.06,239.77L714.54,239.63M724.51,237.13L724.65,237.10L725.21,236.97L725.78,236.85L726.34,236.72L726.57,236.67M736.46,234.68L736.51,234.68L737.08,234.57L737.64,234.47L738.21,234.37L738.78,234.27L739.35,234.17L739.92,234.07L740.49,233.98L741.06,233.88L741.63,233.78L742.20,233.69L742.77,233.60L743.34,233.50L743.91,233.41L744.48,233.32L745.05,233.23L745.62,233.15L746.20,233.06L746.77,232.97L747.34,232.89L747.91,232.80L748.49,232.72L749.06,232.63L749.63,232.55L750.21,232.47L750.78,232.39L751.35,232.31L751.93,232.23L752.04,232.21M762.05,230.96L762.14,230.95L762.72,230.89L763.30,230.82L763.87,230.76L764.13,230.73M774.17,229.70L774.28,229.69L774.86,229.64L775.44,229.58L776.02,229.53L776.60,229.47L777.18,229.42L777.76,229.37L778.33,229.32L778.91,229.26L779.49,229.21L780.07,229.16L780.65,229.11L781.23,229.06L781.81,229.01L782.39,228.96L782.97,228.91L783.55,228.86L784.13,228.81L784.71,228.76L785.29,228.71L785.87,228.67L786.45,228.62L787.03,228.57L787.61,228.52L788.19,228.48L788.77,228.43L789.35,228.38L789.89,228.34M799.94,227.55L800.06,227.54L800.64,227.50L801.22,227.45L801.80,227.41L802.04,227.39M812.11,226.66L812.21,226.65L812.79,226.61L813.37,226.57L813.95,226.53L814.53,226.49L815.11,226.45L815.68,226.41L816.26,226.37L816.84,226.33L817.42,226.29L818.00,226.25L818.57,226.21L819.15,226.17L819.73,226.13L820.31,226.09L820.89,226.05L821.47,226.01L822.04,225.98L822.62,225.94L823.20,225.90L823.78,225.86L824.36,225.82L824.93,225.78L825.51,225.75L826.09,225.71L826.67,225.67L827.24,225.63L827.82,225.60L827.88,225.59M837.96,224.97L838.08,224.96L838.65,224.93L839.23,224.89L839.81,224.86L840.05,224.84M850.14,224.26L850.20,224.26L850.78,224.23L851.36,224.19L851.93,224.16L852.51,224.13L853.09,224.10L853.66,224.07L854.24,224.04L854.82,224.01L855.40,223.98L855.97,223.94L856.55,223.91L857.13,223.88L857.70,223.85L858.28,223.82L858.86,223.79L859.44,223.76L860.01,223.73L860.59,223.70L861.17,223.67L861.74,223.64L862.32,223.61L862.90,223.58L863.48,223.55L864.05,223.52L864.63,223.50L865.21,223.47L865.78,223.44L865.91,223.43M876.00,222.95L876.02,222.94L876.60,222.92L877.18,222.89L877.75,222.86L878.10,222.85M888.20,222.40L888.28,222.40L888.86,222.38L889.43,222.35L890.01,222.33L890.59,222.30L891.16,222.28L891.74,222.25L892.32,222.23L892.89,222.21L893.47,222.18L894.05,222.16L894.62,222.14L895.20,222.11L895.78,222.09L896.36,222.07L896.93,222.04L897.51,222.02L898.09,222.00L898.66,221.98L899.24,221.95L899.82,221.93L900.39,221.91L900.97,221.89L901.55,221.86L902.12,221.84L902.70,221.82L903.28,221.80L903.85,221.78L904.00,221.77M914.10,221.40L914.24,221.40L914.81,221.38L915.39,221.36L915.97,221.34L916.20,221.33M926.31,221.00L926.35,221.00L926.93,220.98L927.51,220.96L928.09,220.94L928.66,220.92L929.24,220.91L929.82,220.89L930.39,220.87L930.97,220.85L931.55,220.84L932.13,220.82L932.70,220.80L933.28,220.78L933.86,220.77L934.44,220.75L935.01,220.73L935.59,220.72L936.17,220.70L936.74,220.68L937.32,220.67L937.90,220.65L938.48,220.63L939.05,220.62L939.63,220.60L940.21,220.58L940.79,220.57L941.36,220.55L941.94,220.53L942.11,220.53M952.22,220.26L952.34,220.26L952.92,220.24L953.49,220.23L954.07,220.21L954.32,220.21M964.43,219.96L964.48,219.96L965.05,219.95L965.63,219.94L966.21,219.92L966.79,219.91L967.37,219.90L967.94,219.88L968.52,219.87L969.10,219.86L969.68,219.85L970.26,219.83L970.84,219.82L971.42,219.81L971.99,219.79L972.57,219.78L973.15,219.77L973.73,219.76L974.31,219.75L974.89,219.73L975.46,219.72L976.04,219.71L976.62,219.70L977.20,219.68L977.78,219.67L978.36,219.66L978.94,219.65L979.52,219.64L980.09,219.63L980.24,219.62M990.34,219.43L990.37,219.43L990.95,219.42L991.53,219.41L992.11,219.39L992.44,219.39M1002.54,219.21L1002.55,219.21L1003.13,219.20L1003.71,219.19L1004.29,219.18L1004.87,219.17L1005.45,219.16L1006.03,219.15L1006.61,219.15L1007.19,219.14L1007.77,219.13L1008.35,219.12L1008.93,219.11L1009.51,219.10L1010.09,219.09L1010.67,219.08L1011.25,219.07L1011.83,219.06L1012.41,219.05L1012.99,219.04L1013.57,219.03L1014.15,219.03L1014.73,219.02L1015.32,219.01L1015.61,219.00" stroke="#008000" stroke-width="3.50"/>
<path d="M639.30,4.99 L639.53,6.00 L639.76,7.00 L639.99,8.00 L640.22,9.00 L640.45,10.00 L640.69,10.99 L640.92,11.99 L641.15,12.99 L641.38,13.98 L641.62,14.97 L641.85,15.97 L642.08,16.96 L642.32,17.95 L642.55,18.94 L642.79,19.93 L643.03,20.91 L643.26,21.90 L643.50,22.88 L643.74,23.87 L643.98,24.85 L644.22,25.84 L644.46,26.82 L644.70,27.80 L644.94,28.78 L645.18,29.76 L645.42,30.74 L645.67,31.72 L645.91,32.69 L646.15,33.67 L646.40,34.64 L646.65,35.62 L646.89,36.59 L647.14,37.57 L647.39,38.54 L647.64,39.51 L647.89,40.48 L648.14,41.45 L648.40,42.42 L648.65,43.39 L648.91,44.36 L649.16,45.32 L649.42,46.29 L649.68,47.26 L649.94,48.22 L650.20,49.19 L650.46,50.15 L650.72,51.11 L650.99,52.08 L651.25,53.04 L651.52,54.00 L651.78,54.96 L652.05,55.92 L652.32,56.88 L652.59,57.84 L652.87,58.80 L653.14,59.75 L653.42,60.71 L653.69,61.67 L653.97,62.63 L654.25,63.58 L654.53,64.54 L654.81,65.49 L655.10,66.45 L655.38,67.40 L655.67,68.35 L655.96,69.31 L656.25,70.26 L656.54,71.21 L656.83,72.16 L657.13,73.11 L657.42,74.07 L657.72,75.02 L658.02,75.97 L658.32,76.92 L658.63,77.87 L658.93,78.82 L659.24,79.76 L659.55,80.71 L659.86,81.66 L660.17,82.61 L660.48,83.56 L660.80,84.50 L661.12,85.45 L661.44,86.40 L661.76,87.34 L662.08,88.29 L662.41,89.24 L662.74,90.18 L663.06,91.13 L663.40,92.07 L663.73,93.02 L664.07,93.96 L664.40,94.91 L664.74,95.85 L665.09,96.80 L665.43,97.74 L665.78,98.68 L666.12,99.63 L666.47,100.57 L666.83,101.52 L667.18,102.46 L667.54,103.40 L667.90,104.35 L668.26,105.29 L668.63,106.23 L668.99,107.18 L669.36,108.12 L669.73,109.06 L670.11,110.01 L670.48,110.95 L670.86,111.89 L671.24,112.84 L671.63,113.78 L672.01,114.72 L672.40,115.67 L672.79,116.61 L673.19,117.55 L673.58,118.50 L673.98,119.44 L674.39,120.38 L674.79,121.32 L675.20,122.27 L675.61,123.21 L676.02,124.15 L676.44,125.09 L676.86,126.03 L677.28,126.97 L677.70,127.90 L678.13,128.84 L678.56,129.78 L679.00,130.71 L679.44,131.64 L679.88,132.57 L680.32,133.50 L680.77,134.43 L681.22,135.36 L681.67,136.28 L682.13,137.21 L682.59,138.13 L683.06,139.05 L683.53,139.96 L684.00,140.88 L684.48,141.79 L684.96,142.70 L685.44,143.60 L685.93,144.51 L686.42,145.41 L686.91,146.31 L687.41,147.21 L687.92,148.10 L688.42,148.99 L688.94,149.87 L689.45,150.76 L689.97,151.64 L690.50,152.51 L691.02,153.39 L691.56,154.26 L692.09,155.12 L692.63,155.98 L693.18,156.84 L693.73,157.70 L694.29,158.55 L694.84,159.39 L695.41,160.23 L695.98,161.07 L696.55,161.90 L697.13,162.73 L697.71,163.56 L698.30,164.37 L698.89,165.19 L699.49,166.00 L700.09,166.80 L700.70,167.60 L701.31,168.39 L701.93,169.18 L702.55,169.97 L703.18,170.74 L703.81,171.52 L704.45,172.28 L705.09,173.04 L705.74,173.80 L706.40,174.55 L707.06,175.29 L707.72,176.03 L708.39,176.76 L709.07,177.48 L709.75,178.20 L710.44,178.91 L711.13,179.62 L711.83,180.32 L712.54,181.01 L713.25,181.70 L713.96,182.37 L714.68,183.04 L715.41,183.71 L716.15,184.37 L716.89,185.02 L717.63,185.66 L718.39,186.29 L719.14,186.92 L719.91,187.54 L720.68,188.15 L721.46,188.76 L722.24,189.35 L723.03,189.94 L723.83,190.52 L724.63,191.09 L725.44,191.66 L726.26,192.21 L727.08,192.76 L727.91,193.30 L728.74,193.83 L729.58,194.35 L730.43,194.86 L731.28,195.37 L732.14,195.87 L733.01,196.36 L733.87,196.84 L734.75,197.32 L735.63,197.79 L736.51,198.25 L737.41,198.70 L738.30,199.14 L739.20,199.58 L740.11,200.01 L741.02,200.43 L741.93,200.85 L742.85,201.25 L743.77,201.65 L744.70,202.05 L745.63,202.43 L746.57,202.81 L747.51,203.18 L748.45,203.55 L749.40,203.91 L750.35,204.26 L751.30,204.60 L752.26,204.94 L753.22,205.27 L754.18,205.59 L755.15,205.91 L756.12,206.22 L757.09,206.52 L758.07,206.82 L759.05,207.11 L760.03,207.39 L761.01,207.67 L761.99,207.94 L762.98,208.20 L763.97,208.46 L764.96,208.72 L765.96,208.96 L766.95,209.20 L767.95,209.44 L768.95,209.67 L769.95,209.89 L770.95,210.10 L771.96,210.31 L772.96,210.52 L773.96,210.72 L774.97,210.91 L775.98,211.10 L776.99,211.28 L777.99,211.46 L779.00,211.63 L780.01,211.80 L781.02,211.96 L782.03,212.11 L783.04,212.26 L784.05,212.41 L785.06,212.54 L786.07,212.68 L787.08,212.81 L788.09,212.93 L789.10,213.05 L790.11,213.17 L791.12,213.28 L792.13,213.38 L793.14,213.48 L794.14,213.58 L795.15,213.67 L796.16,213.76 L797.17,213.85 L798.18,213.93 L799.18,214.00 L800.19,214.08 L801.20,214.14 L802.21,214.21 L803.21,214.27 L804.22,214.33 L805.23,214.39 L806.23,214.44 L807.24,214.49 L808.24,214.54 L809.25,214.58 L810.26,214.62 L811.26,214.66 L812.27,214.69 L813.27,214.73 L814.28,214.76 L815.29,214.79 L816.29,214.82 L817.30,214.84 L818.30,214.86 L819.31,214.88 L820.31,214.90 L821.32,214.92 L822.32,214.94 L823.33,214.95 L824.33,214.97 L825.34,214.98 L826.34,214.99 L827.35,215.00 L828.35,215.01 L829.35,215.02 L830.36,215.02 L831.36,215.03 L832.37,215.04 L833.37,215.04 L834.38,215.05 L835.38,215.05 L836.39,215.06 L837.39,215.07 L838.40,215.07 L839.40,215.08 L840.40,215.08 L841.41,215.09 L842.41,215.10 L843.42,215.10 L844.42,215.11 L845.43,215.12 L846.43,215.13 L847.44,215.13 L848.44,215.14 L849.44,215.15 L850.45,215.16 L851.45,215.17 L852.46,215.18 L853.46,215.19 L854.47,215.20 L855.47,215.21 L856.48,215.22 L857.48,215.23 L858.49,215.24 L859.49,215.25 L860.50,215.26 L861.50,215.27 L862.51,215.28 L863.51,215.29 L864.52,215.30 L865.52,215.32 L866.53,215.33 L867.53,215.34 L868.54,215.35 L869.55,215.36 L870.55,215.37 L871.56,215.38 L872.56,215.40 L873.57,215.41 L874.57,215.42 L875.58,215.43 L876.59,215.44 L877.59,215.45 L878.60,215.46 L879.61,215.48 L880.61,215.49 L881.62,215.50 L882.62,215.51 L883.63,215.52 L884.64,215.53 L885.64,215.54 L886.65,215.55 L887.66,215.56 L888.67,215.57 L889.67,215.58 L890.68,215.59 L891.69,215.60 L892.70,215.61 L893.70,215.62 L894.71,215.63 L895.72,215.64 L896.73,215.65 L897.74,215.66 L898.74,215.66 L899.75,215.67 L900.76,215.68 L901.77,215.69 L902.78,215.69 L903.79,215.70 L904.79,215.71 L905.80,215.72 L906.81,215.72 L907.82,215.73 L908.83,215.74 L909.84,215.74 L910.85,215.75 L911.86,215.75 L912.87,215.76 L913.88,215.77 L914.88,215.77 L915.89,215.78 L916.90,215.78 L917.91,215.79 L918.92,215.79 L919.93,215.80 L920.94,215.80 L921.95,215.81 L922.96,215.81 L923.97,215.81 L924.98,215.82 L925.99,215.82 L927.00,215.83 L928.01,215.83 L929.02,215.83 L930.03,215.84 L931.04,215.84 L932.05,215.84 L933.06,215.85 L934.07,215.85 L935.08,215.85 L936.09,215.85 L937.10,215.86 L938.11,215.86 L939.12,215.86 L940.13,215.86 L941.14,215.86 L942.15,215.87 L943.16,215.87 L944.17,215.87 L945.18,215.87 L946.19,215.87 L947.20,215.87 L948.21,215.87 L949.22,215.88 L950.23,215.88 L951.24,215.88 L952.25,215.88 L953.26,215.88 L954.27,215.88 L955.28,215.88 L956.29,215.88 L957.30,215.88 L958.31,215.88 L959.32,215.88 L960.33,215.88 L961.34,215.88 L962.35,215.88 L963.36,215.88 L964.37,215.88 L965.38,215.88 L966.39,215.88 L967.40,215.88 L968.41,215.88 L969.42,215.88 L970.43,215.88 L971.44,215.88 L972.45,215.87 L973.46,215.87 L974.47,215.87 L975.48,215.87 L976.49,215.87 L977.49,215.87 L978.50,215.87 L979.51,215.87 L980.52,215.87 L981.53,215.86 L982.54,215.86 L983.55,215.86 L984.56,215.86 L985.56,215.86 L986.57,215.86 L987.58,215.86 L988.59,215.85 L989.60,215.85 L990.61,215.85 L991.61,215.85 L992.62,215.85 L993.63,215.84 L994.64,215.84 L995.64,215.84 L996.65,215.84 L997.66,215.84 L998.67,215.83 L999.67,215.83 L1000.68,215.83 L1001.69,215.83 L1002.69,215.83 L1003.70,215.82 L1004.71,215.82 L1005.71,215.82 L1006.72,215.82 L1007.72,215.82 L1008.73,215.81 L1009.74,215.81 L1010.74,215.81 L1011.75,215.81 L1012.75,215.81 L1013.76,215.80 L1014.76,215.80" stroke="#7f00ff" stroke-width="4.20" stroke-linecap="butt"/>
</g>
<rect x="81.10" y="17.15" width="416.60" height="339.45" stroke="#000" stroke-width="1.75" fill="none"/>
<rect x="600.30" y="17.15" width="415.40" height="339.45" stroke="#000" stroke-width="1.75" fill="none"/>
</svg>
</body></html>
